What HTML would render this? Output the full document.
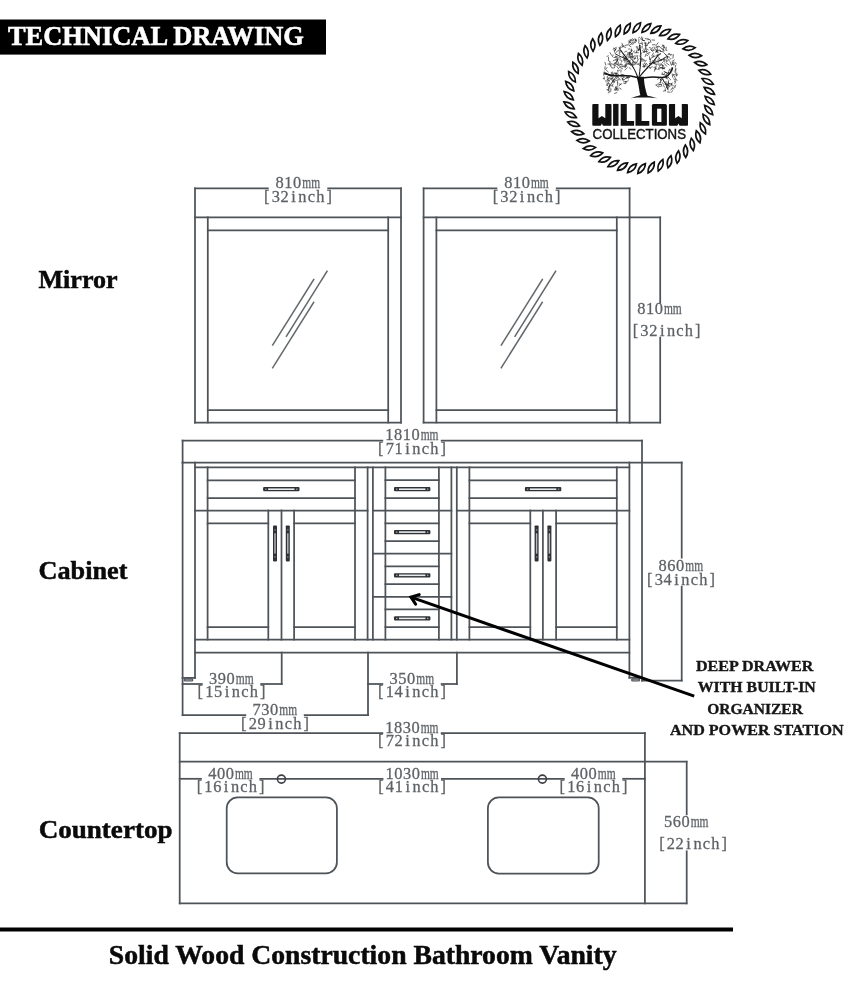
<!DOCTYPE html>
<html><head><meta charset="utf-8"><style>
html,body{margin:0;padding:0;background:#fff;}
svg{display:block;will-change:transform;}
</style></head><body>
<svg width="864" height="990" viewBox="0 0 864 990">
<rect width="864" height="990" fill="#fff"/>
<text x="279.67 288.42 297.17" y="188.2" font-family="Liberation Serif" font-size="16.4" fill="#5e6266" stroke="#5e6266" stroke-width="0.28" text-anchor="middle">810</text>
<text x="302.32" y="188.2" font-family="Liberation Serif" font-size="16.4" fill="#5e6266" stroke="#5e6266" stroke-width="0.28" textLength="17.8" lengthAdjust="spacingAndGlyphs">mm</text>
<text x="266.85 275.75 284.65 293.55 302.45 311.35 320.25 329.15" y="201.6" font-family="Liberation Serif" font-size="16.4" fill="#5e6266" stroke="#5e6266" stroke-width="0.28" text-anchor="middle">[32inch]</text>
<line x1="195.00" y1="188.40" x2="267.85" y2="188.40" stroke="#4d5358" stroke-width="1.75" stroke-linecap="square"/>
<line x1="328.15" y1="188.40" x2="401.00" y2="188.40" stroke="#4d5358" stroke-width="1.75" stroke-linecap="square"/>
<line x1="195.00" y1="188.40" x2="195.00" y2="422.50" stroke="#4d5358" stroke-width="1.75" stroke-linecap="square"/>
<line x1="401.00" y1="188.40" x2="401.00" y2="422.50" stroke="#4d5358" stroke-width="1.75" stroke-linecap="square"/>
<line x1="195.00" y1="217.40" x2="401.00" y2="217.40" stroke="#4d5358" stroke-width="1.75" stroke-linecap="square"/>
<line x1="207.80" y1="217.40" x2="207.80" y2="422.50" stroke="#4d5358" stroke-width="1.75" stroke-linecap="square"/>
<line x1="388.20" y1="217.40" x2="388.20" y2="422.50" stroke="#4d5358" stroke-width="1.75" stroke-linecap="square"/>
<line x1="207.80" y1="230.30" x2="388.20" y2="230.30" stroke="#4d5358" stroke-width="1.75" stroke-linecap="square"/>
<line x1="207.80" y1="410.00" x2="388.20" y2="410.00" stroke="#4d5358" stroke-width="1.75" stroke-linecap="square"/>
<line x1="195.00" y1="422.50" x2="401.00" y2="422.50" stroke="#4d5358" stroke-width="1.75" stroke-linecap="square"/>
<line x1="313.70" y1="279.60" x2="272.70" y2="345.00" stroke="#62676b" stroke-width="1.5" stroke-linecap="square"/>
<line x1="327.00" y1="271.30" x2="286.40" y2="336.30" stroke="#62676b" stroke-width="1.5" stroke-linecap="square"/>
<line x1="313.70" y1="302.40" x2="272.70" y2="367.70" stroke="#62676b" stroke-width="1.5" stroke-linecap="square"/>
<text x="508.27 517.02 525.77" y="188.2" font-family="Liberation Serif" font-size="16.4" fill="#5e6266" stroke="#5e6266" stroke-width="0.28" text-anchor="middle">810</text>
<text x="530.92" y="188.2" font-family="Liberation Serif" font-size="16.4" fill="#5e6266" stroke="#5e6266" stroke-width="0.28" textLength="17.8" lengthAdjust="spacingAndGlyphs">mm</text>
<text x="495.45 504.35 513.25 522.15 531.05 539.95 548.85 557.75" y="201.6" font-family="Liberation Serif" font-size="16.4" fill="#5e6266" stroke="#5e6266" stroke-width="0.28" text-anchor="middle">[32inch]</text>
<line x1="423.60" y1="188.40" x2="496.45" y2="188.40" stroke="#4d5358" stroke-width="1.75" stroke-linecap="square"/>
<line x1="556.75" y1="188.40" x2="629.60" y2="188.40" stroke="#4d5358" stroke-width="1.75" stroke-linecap="square"/>
<line x1="423.60" y1="188.40" x2="423.60" y2="422.50" stroke="#4d5358" stroke-width="1.75" stroke-linecap="square"/>
<line x1="629.60" y1="188.40" x2="629.60" y2="422.50" stroke="#4d5358" stroke-width="1.75" stroke-linecap="square"/>
<line x1="423.60" y1="217.40" x2="629.60" y2="217.40" stroke="#4d5358" stroke-width="1.75" stroke-linecap="square"/>
<line x1="436.40" y1="217.40" x2="436.40" y2="422.50" stroke="#4d5358" stroke-width="1.75" stroke-linecap="square"/>
<line x1="616.80" y1="217.40" x2="616.80" y2="422.50" stroke="#4d5358" stroke-width="1.75" stroke-linecap="square"/>
<line x1="436.40" y1="230.30" x2="616.80" y2="230.30" stroke="#4d5358" stroke-width="1.75" stroke-linecap="square"/>
<line x1="436.40" y1="410.00" x2="616.80" y2="410.00" stroke="#4d5358" stroke-width="1.75" stroke-linecap="square"/>
<line x1="423.60" y1="422.50" x2="629.60" y2="422.50" stroke="#4d5358" stroke-width="1.75" stroke-linecap="square"/>
<line x1="542.30" y1="279.60" x2="501.30" y2="345.00" stroke="#62676b" stroke-width="1.5" stroke-linecap="square"/>
<line x1="555.60" y1="271.30" x2="515.00" y2="336.30" stroke="#62676b" stroke-width="1.5" stroke-linecap="square"/>
<line x1="542.30" y1="302.40" x2="501.30" y2="367.70" stroke="#62676b" stroke-width="1.5" stroke-linecap="square"/>
<line x1="629.60" y1="217.40" x2="660.20" y2="217.40" stroke="#4d5358" stroke-width="1.75" stroke-linecap="square"/>
<line x1="660.20" y1="217.40" x2="660.20" y2="302.90" stroke="#4d5358" stroke-width="1.75" stroke-linecap="square"/>
<line x1="660.20" y1="337.60" x2="660.20" y2="422.50" stroke="#4d5358" stroke-width="1.75" stroke-linecap="square"/>
<line x1="629.60" y1="422.50" x2="660.20" y2="422.50" stroke="#4d5358" stroke-width="1.75" stroke-linecap="square"/>
<text x="641.30 650.05 658.80" y="314.4" font-family="Liberation Serif" font-size="16.4" fill="#5e6266" stroke="#5e6266" stroke-width="0.28" text-anchor="middle">810</text>
<text x="663.95" y="314.4" font-family="Liberation Serif" font-size="16.4" fill="#5e6266" stroke="#5e6266" stroke-width="0.28" textLength="17.8" lengthAdjust="spacingAndGlyphs">mm</text>
<text x="635.50 644.40 653.30 662.20 671.10 680.00 688.90 697.80" y="335.7" font-family="Liberation Serif" font-size="16.4" fill="#5e6266" stroke="#5e6266" stroke-width="0.28" text-anchor="middle">[32inch]</text>
<text x="389.30 398.05 406.80 415.55" y="440.2" font-family="Liberation Serif" font-size="16.4" fill="#5e6266" stroke="#5e6266" stroke-width="0.28" text-anchor="middle">1810</text>
<text x="420.70" y="440.2" font-family="Liberation Serif" font-size="16.4" fill="#5e6266" stroke="#5e6266" stroke-width="0.28" textLength="17.8" lengthAdjust="spacingAndGlyphs">mm</text>
<text x="380.85 389.75 398.65 407.55 416.45 425.35 434.25 443.15" y="453.59999999999997" font-family="Liberation Serif" font-size="16.4" fill="#5e6266" stroke="#5e6266" stroke-width="0.28" text-anchor="middle">[71inch]</text>
<line x1="182.60" y1="440.60" x2="382.35" y2="440.60" stroke="#4d5358" stroke-width="1.75" stroke-linecap="square"/>
<line x1="441.65" y1="440.60" x2="642.00" y2="440.60" stroke="#4d5358" stroke-width="1.75" stroke-linecap="square"/>
<line x1="182.60" y1="440.60" x2="182.60" y2="462.50" stroke="#4d5358" stroke-width="1.75" stroke-linecap="square"/>
<line x1="642.00" y1="440.60" x2="642.00" y2="462.50" stroke="#4d5358" stroke-width="1.75" stroke-linecap="square"/>
<line x1="182.60" y1="462.50" x2="681.70" y2="462.50" stroke="#4d5358" stroke-width="1.75" stroke-linecap="square"/>
<line x1="182.60" y1="462.50" x2="182.60" y2="715.20" stroke="#4d5358" stroke-width="1.75" stroke-linecap="square"/>
<line x1="195.00" y1="462.50" x2="195.00" y2="677.90" stroke="#4d5358" stroke-width="1.75" stroke-linecap="square"/>
<line x1="629.40" y1="462.50" x2="629.40" y2="677.70" stroke="#4d5358" stroke-width="1.75" stroke-linecap="square"/>
<line x1="642.00" y1="462.50" x2="642.00" y2="680.50" stroke="#4d5358" stroke-width="1.75" stroke-linecap="square"/>
<line x1="182.60" y1="677.90" x2="195.00" y2="677.90" stroke="#4d5358" stroke-width="1.75" stroke-linecap="square"/>
<line x1="629.40" y1="677.70" x2="642.00" y2="677.70" stroke="#4d5358" stroke-width="1.75" stroke-linecap="square"/>
<rect x="184.3" y="679.0" width="8.4" height="1.9" rx="0.9" fill="none" stroke="#4d5358" stroke-width="1.3"/>
<rect x="631.7" y="679.0" width="7.8" height="1.9" rx="0.9" fill="none" stroke="#4d5358" stroke-width="1.3"/>
<line x1="195.00" y1="467.30" x2="629.40" y2="467.30" stroke="#4d5358" stroke-width="1.75" stroke-linecap="square"/>
<line x1="195.00" y1="639.60" x2="629.40" y2="639.60" stroke="#4d5358" stroke-width="1.75" stroke-linecap="square"/>
<line x1="195.00" y1="652.60" x2="629.40" y2="652.60" stroke="#4d5358" stroke-width="1.75" stroke-linecap="square"/>
<line x1="207.60" y1="467.30" x2="207.60" y2="639.60" stroke="#4d5358" stroke-width="1.75" stroke-linecap="square"/>
<line x1="355.00" y1="467.30" x2="355.00" y2="639.60" stroke="#4d5358" stroke-width="1.75" stroke-linecap="square"/>
<line x1="367.60" y1="467.30" x2="367.60" y2="639.60" stroke="#4d5358" stroke-width="1.75" stroke-linecap="square"/>
<line x1="207.60" y1="480.30" x2="355.00" y2="480.30" stroke="#4d5358" stroke-width="1.75" stroke-linecap="square"/>
<line x1="207.60" y1="498.00" x2="355.00" y2="498.00" stroke="#4d5358" stroke-width="1.75" stroke-linecap="square"/>
<line x1="195.00" y1="510.50" x2="367.60" y2="510.50" stroke="#4d5358" stroke-width="1.75" stroke-linecap="square"/>
<line x1="268.30" y1="510.50" x2="268.30" y2="639.60" stroke="#4d5358" stroke-width="1.75" stroke-linecap="square"/>
<line x1="281.50" y1="510.50" x2="281.50" y2="639.60" stroke="#4d5358" stroke-width="1.75" stroke-linecap="square"/>
<line x1="294.10" y1="510.50" x2="294.10" y2="639.60" stroke="#4d5358" stroke-width="1.75" stroke-linecap="square"/>
<line x1="207.60" y1="523.30" x2="268.30" y2="523.30" stroke="#4d5358" stroke-width="1.75" stroke-linecap="square"/>
<line x1="207.60" y1="627.20" x2="268.30" y2="627.20" stroke="#4d5358" stroke-width="1.75" stroke-linecap="square"/>
<line x1="294.10" y1="523.30" x2="355.00" y2="523.30" stroke="#4d5358" stroke-width="1.75" stroke-linecap="square"/>
<line x1="294.10" y1="627.20" x2="355.00" y2="627.20" stroke="#4d5358" stroke-width="1.75" stroke-linecap="square"/>
<rect x="263.1" y="487.1" width="36.4" height="4.2" rx="1" fill="#2e3236"/>
<rect x="268.1" y="488.4" width="26.4" height="1.6" fill="#e8eaec"/>
<rect x="265.1" y="488.6" width="1.4" height="1.2" fill="#aaa"/>
<rect x="296.1" y="488.6" width="1.4" height="1.2" fill="#aaa"/>
<rect x="273.0" y="525.5" width="4.0" height="35.9" rx="0.8" fill="#2e3236"/>
<rect x="274.3" y="533.3" width="1.4" height="20.3" fill="#b8bbbe"/>
<rect x="274.4" y="529.3" width="1.2" height="1.2" fill="#9a9da0"/>
<rect x="274.4" y="556.4" width="1.2" height="1.2" fill="#9a9da0"/>
<rect x="285.8" y="525.5" width="4.0" height="35.9" rx="0.8" fill="#2e3236"/>
<rect x="287.1" y="533.3" width="1.4" height="20.3" fill="#b8bbbe"/>
<rect x="287.2" y="529.3" width="1.2" height="1.2" fill="#9a9da0"/>
<rect x="287.2" y="556.4" width="1.2" height="1.2" fill="#9a9da0"/>
<line x1="616.80" y1="467.30" x2="616.80" y2="639.60" stroke="#4d5358" stroke-width="1.75" stroke-linecap="square"/>
<line x1="469.40" y1="467.30" x2="469.40" y2="639.60" stroke="#4d5358" stroke-width="1.75" stroke-linecap="square"/>
<line x1="456.80" y1="467.30" x2="456.80" y2="639.60" stroke="#4d5358" stroke-width="1.75" stroke-linecap="square"/>
<line x1="469.40" y1="480.30" x2="616.80" y2="480.30" stroke="#4d5358" stroke-width="1.75" stroke-linecap="square"/>
<line x1="469.40" y1="498.00" x2="616.80" y2="498.00" stroke="#4d5358" stroke-width="1.75" stroke-linecap="square"/>
<line x1="456.80" y1="510.50" x2="629.40" y2="510.50" stroke="#4d5358" stroke-width="1.75" stroke-linecap="square"/>
<line x1="556.10" y1="510.50" x2="556.10" y2="639.60" stroke="#4d5358" stroke-width="1.75" stroke-linecap="square"/>
<line x1="542.90" y1="510.50" x2="542.90" y2="639.60" stroke="#4d5358" stroke-width="1.75" stroke-linecap="square"/>
<line x1="530.30" y1="510.50" x2="530.30" y2="639.60" stroke="#4d5358" stroke-width="1.75" stroke-linecap="square"/>
<line x1="556.10" y1="523.30" x2="616.80" y2="523.30" stroke="#4d5358" stroke-width="1.75" stroke-linecap="square"/>
<line x1="556.10" y1="627.20" x2="616.80" y2="627.20" stroke="#4d5358" stroke-width="1.75" stroke-linecap="square"/>
<line x1="469.40" y1="523.30" x2="530.30" y2="523.30" stroke="#4d5358" stroke-width="1.75" stroke-linecap="square"/>
<line x1="469.40" y1="627.20" x2="530.30" y2="627.20" stroke="#4d5358" stroke-width="1.75" stroke-linecap="square"/>
<rect x="524.9" y="487.1" width="36.4" height="4.2" rx="1" fill="#2e3236"/>
<rect x="529.9" y="488.4" width="26.4" height="1.6" fill="#e8eaec"/>
<rect x="526.9" y="488.6" width="1.4" height="1.2" fill="#aaa"/>
<rect x="557.9" y="488.6" width="1.4" height="1.2" fill="#aaa"/>
<rect x="547.4" y="525.5" width="4.0" height="35.9" rx="0.8" fill="#2e3236"/>
<rect x="548.7" y="533.3" width="1.4" height="20.3" fill="#b8bbbe"/>
<rect x="548.8" y="529.3" width="1.2" height="1.2" fill="#9a9da0"/>
<rect x="548.8" y="556.4" width="1.2" height="1.2" fill="#9a9da0"/>
<rect x="534.6" y="525.5" width="4.0" height="35.9" rx="0.8" fill="#2e3236"/>
<rect x="535.9" y="533.3" width="1.4" height="20.3" fill="#b8bbbe"/>
<rect x="536.0" y="529.3" width="1.2" height="1.2" fill="#9a9da0"/>
<rect x="536.0" y="556.4" width="1.2" height="1.2" fill="#9a9da0"/>
<line x1="372.90" y1="467.30" x2="372.90" y2="639.60" stroke="#4d5358" stroke-width="1.75" stroke-linecap="square"/>
<line x1="385.40" y1="467.30" x2="385.40" y2="639.60" stroke="#4d5358" stroke-width="1.75" stroke-linecap="square"/>
<line x1="438.90" y1="467.30" x2="438.90" y2="639.60" stroke="#4d5358" stroke-width="1.75" stroke-linecap="square"/>
<line x1="451.40" y1="467.30" x2="451.40" y2="639.60" stroke="#4d5358" stroke-width="1.75" stroke-linecap="square"/>
<line x1="385.40" y1="480.20" x2="438.90" y2="480.20" stroke="#4d5358" stroke-width="1.75" stroke-linecap="square"/>
<line x1="385.40" y1="498.00" x2="438.90" y2="498.00" stroke="#4d5358" stroke-width="1.75" stroke-linecap="square"/>
<line x1="385.40" y1="523.30" x2="438.90" y2="523.30" stroke="#4d5358" stroke-width="1.75" stroke-linecap="square"/>
<line x1="385.40" y1="541.10" x2="438.90" y2="541.10" stroke="#4d5358" stroke-width="1.75" stroke-linecap="square"/>
<line x1="385.40" y1="566.30" x2="438.90" y2="566.30" stroke="#4d5358" stroke-width="1.75" stroke-linecap="square"/>
<line x1="385.40" y1="584.00" x2="438.90" y2="584.00" stroke="#4d5358" stroke-width="1.75" stroke-linecap="square"/>
<line x1="385.40" y1="609.40" x2="438.90" y2="609.40" stroke="#4d5358" stroke-width="1.75" stroke-linecap="square"/>
<line x1="385.40" y1="627.10" x2="438.90" y2="627.10" stroke="#4d5358" stroke-width="1.75" stroke-linecap="square"/>
<line x1="372.90" y1="510.60" x2="451.40" y2="510.60" stroke="#4d5358" stroke-width="1.75" stroke-linecap="square"/>
<line x1="372.90" y1="553.60" x2="451.40" y2="553.60" stroke="#4d5358" stroke-width="1.75" stroke-linecap="square"/>
<line x1="372.90" y1="596.80" x2="451.40" y2="596.80" stroke="#4d5358" stroke-width="1.75" stroke-linecap="square"/>
<rect x="394.0" y="487.1" width="36.4" height="4.2" rx="1" fill="#2e3236"/>
<rect x="399.0" y="488.4" width="26.4" height="1.6" fill="#e8eaec"/>
<rect x="396.0" y="488.6" width="1.4" height="1.2" fill="#aaa"/>
<rect x="427.0" y="488.6" width="1.4" height="1.2" fill="#aaa"/>
<rect x="394.0" y="530.0" width="36.4" height="4.2" rx="1" fill="#2e3236"/>
<rect x="399.0" y="531.3" width="26.4" height="1.6" fill="#e8eaec"/>
<rect x="396.0" y="531.5" width="1.4" height="1.2" fill="#aaa"/>
<rect x="427.0" y="531.5" width="1.4" height="1.2" fill="#aaa"/>
<rect x="394.0" y="573.2" width="36.4" height="4.2" rx="1" fill="#2e3236"/>
<rect x="399.0" y="574.5" width="26.4" height="1.6" fill="#e8eaec"/>
<rect x="396.0" y="574.7" width="1.4" height="1.2" fill="#aaa"/>
<rect x="427.0" y="574.7" width="1.4" height="1.2" fill="#aaa"/>
<rect x="394.0" y="616.3" width="36.4" height="4.2" rx="1" fill="#2e3236"/>
<rect x="399.0" y="617.6" width="26.4" height="1.6" fill="#e8eaec"/>
<rect x="396.0" y="617.8" width="1.4" height="1.2" fill="#aaa"/>
<rect x="427.0" y="617.8" width="1.4" height="1.2" fill="#aaa"/>
<line x1="681.70" y1="462.50" x2="681.70" y2="557.60" stroke="#4d5358" stroke-width="1.75" stroke-linecap="square"/>
<line x1="681.70" y1="586.70" x2="681.70" y2="680.50" stroke="#4d5358" stroke-width="1.75" stroke-linecap="square"/>
<line x1="642.00" y1="680.50" x2="681.70" y2="680.50" stroke="#4d5358" stroke-width="1.75" stroke-linecap="square"/>
<text x="662.68 671.43 680.18" y="571.4" font-family="Liberation Serif" font-size="16.4" fill="#5e6266" stroke="#5e6266" stroke-width="0.28" text-anchor="middle">860</text>
<text x="685.33" y="571.4" font-family="Liberation Serif" font-size="16.4" fill="#5e6266" stroke="#5e6266" stroke-width="0.28" textLength="17.8" lengthAdjust="spacingAndGlyphs">mm</text>
<text x="649.85 658.75 667.65 676.55 685.45 694.35 703.25 712.15" y="584.9" font-family="Liberation Serif" font-size="16.4" fill="#5e6266" stroke="#5e6266" stroke-width="0.28" text-anchor="middle">[34inch]</text>
<line x1="281.70" y1="652.60" x2="281.70" y2="684.00" stroke="#4d5358" stroke-width="1.75" stroke-linecap="square"/>
<text x="213.17 221.92 230.67" y="683.5" font-family="Liberation Serif" font-size="16.4" fill="#5e6266" stroke="#5e6266" stroke-width="0.28" text-anchor="middle">390</text>
<text x="235.82" y="683.5" font-family="Liberation Serif" font-size="16.4" fill="#5e6266" stroke="#5e6266" stroke-width="0.28" textLength="17.8" lengthAdjust="spacingAndGlyphs">mm</text>
<text x="200.35 209.25 218.15 227.05 235.95 244.85 253.75 262.65" y="697.0" font-family="Liberation Serif" font-size="16.4" fill="#5e6266" stroke="#5e6266" stroke-width="0.28" text-anchor="middle">[15inch]</text>
<line x1="182.60" y1="684.00" x2="201.85" y2="684.00" stroke="#4d5358" stroke-width="1.75" stroke-linecap="square"/>
<line x1="261.15" y1="684.00" x2="281.70" y2="684.00" stroke="#4d5358" stroke-width="1.75" stroke-linecap="square"/>
<line x1="368.00" y1="652.60" x2="368.00" y2="715.20" stroke="#4d5358" stroke-width="1.75" stroke-linecap="square"/>
<line x1="456.90" y1="652.60" x2="456.90" y2="684.00" stroke="#4d5358" stroke-width="1.75" stroke-linecap="square"/>
<text x="393.67 402.42 411.17" y="683.5" font-family="Liberation Serif" font-size="16.4" fill="#5e6266" stroke="#5e6266" stroke-width="0.28" text-anchor="middle">350</text>
<text x="416.32" y="683.5" font-family="Liberation Serif" font-size="16.4" fill="#5e6266" stroke="#5e6266" stroke-width="0.28" textLength="17.8" lengthAdjust="spacingAndGlyphs">mm</text>
<text x="380.85 389.75 398.65 407.55 416.45 425.35 434.25 443.15" y="697.0" font-family="Liberation Serif" font-size="16.4" fill="#5e6266" stroke="#5e6266" stroke-width="0.28" text-anchor="middle">[14inch]</text>
<line x1="368.00" y1="684.00" x2="382.35" y2="684.00" stroke="#4d5358" stroke-width="1.75" stroke-linecap="square"/>
<line x1="441.65" y1="684.00" x2="456.90" y2="684.00" stroke="#4d5358" stroke-width="1.75" stroke-linecap="square"/>
<text x="256.67 265.42 274.17" y="715.3" font-family="Liberation Serif" font-size="16.4" fill="#5e6266" stroke="#5e6266" stroke-width="0.28" text-anchor="middle">730</text>
<text x="279.32" y="715.3" font-family="Liberation Serif" font-size="16.4" fill="#5e6266" stroke="#5e6266" stroke-width="0.28" textLength="17.8" lengthAdjust="spacingAndGlyphs">mm</text>
<text x="243.85 252.75 261.65 270.55 279.45 288.35 297.25 306.15" y="728.8" font-family="Liberation Serif" font-size="16.4" fill="#5e6266" stroke="#5e6266" stroke-width="0.28" text-anchor="middle">[29inch]</text>
<line x1="182.60" y1="715.20" x2="245.35" y2="715.20" stroke="#4d5358" stroke-width="1.75" stroke-linecap="square"/>
<line x1="304.65" y1="715.20" x2="368.00" y2="715.20" stroke="#4d5358" stroke-width="1.75" stroke-linecap="square"/>
<text x="389.30 398.05 406.80 415.55" y="732.5" font-family="Liberation Serif" font-size="16.4" fill="#5e6266" stroke="#5e6266" stroke-width="0.28" text-anchor="middle">1830</text>
<text x="420.70" y="732.5" font-family="Liberation Serif" font-size="16.4" fill="#5e6266" stroke="#5e6266" stroke-width="0.28" textLength="17.8" lengthAdjust="spacingAndGlyphs">mm</text>
<text x="380.85 389.75 398.65 407.55 416.45 425.35 434.25 443.15" y="746.0" font-family="Liberation Serif" font-size="16.4" fill="#5e6266" stroke="#5e6266" stroke-width="0.28" text-anchor="middle">[72inch]</text>
<line x1="179.70" y1="733.00" x2="382.35" y2="733.00" stroke="#4d5358" stroke-width="1.75" stroke-linecap="square"/>
<line x1="441.65" y1="733.00" x2="644.90" y2="733.00" stroke="#4d5358" stroke-width="1.75" stroke-linecap="square"/>
<line x1="179.70" y1="733.00" x2="179.70" y2="903.40" stroke="#4d5358" stroke-width="1.75" stroke-linecap="square"/>
<line x1="644.90" y1="733.00" x2="644.90" y2="903.40" stroke="#4d5358" stroke-width="1.75" stroke-linecap="square"/>
<line x1="179.70" y1="903.40" x2="686.50" y2="903.40" stroke="#4d5358" stroke-width="1.75" stroke-linecap="square"/>
<line x1="179.70" y1="761.70" x2="686.50" y2="761.70" stroke="#4d5358" stroke-width="1.75" stroke-linecap="square"/>
<text x="212.27 221.02 229.77" y="778.5" font-family="Liberation Serif" font-size="16.4" fill="#5e6266" stroke="#5e6266" stroke-width="0.28" text-anchor="middle">400</text>
<text x="234.92" y="778.5" font-family="Liberation Serif" font-size="16.4" fill="#5e6266" stroke="#5e6266" stroke-width="0.28" textLength="17.8" lengthAdjust="spacingAndGlyphs">mm</text>
<text x="199.45 208.35 217.25 226.15 235.05 243.95 252.85 261.75" y="791.8" font-family="Liberation Serif" font-size="16.4" fill="#5e6266" stroke="#5e6266" stroke-width="0.28" text-anchor="middle">[16inch]</text>
<text x="389.50 398.25 407.00 415.75" y="778.5" font-family="Liberation Serif" font-size="16.4" fill="#5e6266" stroke="#5e6266" stroke-width="0.28" text-anchor="middle">1030</text>
<text x="420.90" y="778.5" font-family="Liberation Serif" font-size="16.4" fill="#5e6266" stroke="#5e6266" stroke-width="0.28" textLength="17.8" lengthAdjust="spacingAndGlyphs">mm</text>
<text x="381.05 389.95 398.85 407.75 416.65 425.55 434.45 443.35" y="791.8" font-family="Liberation Serif" font-size="16.4" fill="#5e6266" stroke="#5e6266" stroke-width="0.28" text-anchor="middle">[41inch]</text>
<text x="575.18 583.93 592.68" y="778.5" font-family="Liberation Serif" font-size="16.4" fill="#5e6266" stroke="#5e6266" stroke-width="0.28" text-anchor="middle">400</text>
<text x="597.83" y="778.5" font-family="Liberation Serif" font-size="16.4" fill="#5e6266" stroke="#5e6266" stroke-width="0.28" textLength="17.8" lengthAdjust="spacingAndGlyphs">mm</text>
<text x="562.35 571.25 580.15 589.05 597.95 606.85 615.75 624.65" y="791.8" font-family="Liberation Serif" font-size="16.4" fill="#5e6266" stroke="#5e6266" stroke-width="0.28" text-anchor="middle">[16inch]</text>
<line x1="179.70" y1="778.80" x2="200.95" y2="778.80" stroke="#4d5358" stroke-width="1.75" stroke-linecap="square"/>
<line x1="260.25" y1="778.80" x2="382.55" y2="778.80" stroke="#4d5358" stroke-width="1.75" stroke-linecap="square"/>
<line x1="441.85" y1="778.80" x2="563.85" y2="778.80" stroke="#4d5358" stroke-width="1.75" stroke-linecap="square"/>
<line x1="623.15" y1="778.80" x2="644.90" y2="778.80" stroke="#4d5358" stroke-width="1.75" stroke-linecap="square"/>
<line x1="686.70" y1="761.70" x2="686.70" y2="814.30" stroke="#4d5358" stroke-width="1.75" stroke-linecap="square"/>
<line x1="686.70" y1="851.30" x2="686.70" y2="903.40" stroke="#4d5358" stroke-width="1.75" stroke-linecap="square"/>
<text x="668.00 676.75 685.50" y="826.8" font-family="Liberation Serif" font-size="16.4" fill="#5e6266" stroke="#5e6266" stroke-width="0.28" text-anchor="middle">560</text>
<text x="690.65" y="826.8" font-family="Liberation Serif" font-size="16.4" fill="#5e6266" stroke="#5e6266" stroke-width="0.28" textLength="17.8" lengthAdjust="spacingAndGlyphs">mm</text>
<text x="661.90 670.80 679.70 688.60 697.50 706.40 715.30 724.20" y="848.5" font-family="Liberation Serif" font-size="16.4" fill="#5e6266" stroke="#5e6266" stroke-width="0.28" text-anchor="middle">[22inch]</text>
<circle cx="281.4" cy="779.1" r="4.0" fill="none" stroke="#3a3f44" stroke-width="1.6"/>
<circle cx="542.4" cy="779.1" r="4.0" fill="none" stroke="#3a3f44" stroke-width="1.6"/>
<rect x="226.7" y="797.4" width="110.2" height="75.9" rx="11" fill="none" stroke="#4d5358" stroke-width="1.75"/>
<rect x="487.9" y="797.3" width="110.8" height="76.2" rx="11" fill="none" stroke="#4d5358" stroke-width="1.75"/>
<line x1="413" y1="597.9" x2="694.2" y2="696.2" stroke="#000" stroke-width="3.0"/>
<polyline points="419.2,594.6 410.9,597.1 415.6,604.2" fill="none" stroke="#000" stroke-width="3.0" stroke-linejoin="miter" stroke-linecap="round"/>
<text x="695.9" y="671.2" font-family="Liberation Serif" font-size="15.5" font-weight="bold" fill="#161616" text-anchor="start" textLength="117.6" lengthAdjust="spacingAndGlyphs" stroke="#161616" stroke-width="0.35">DEEP DRAWER</text>
<text x="697.8" y="692.4" font-family="Liberation Serif" font-size="15.5" font-weight="bold" fill="#161616" text-anchor="start" textLength="118.0" lengthAdjust="spacingAndGlyphs" stroke="#161616" stroke-width="0.35">WITH BUILT-IN</text>
<text x="707.2" y="713.7" font-family="Liberation Serif" font-size="15.5" font-weight="bold" fill="#161616" text-anchor="start" textLength="95.7" lengthAdjust="spacingAndGlyphs" stroke="#161616" stroke-width="0.35">ORGANIZER</text>
<text x="669.9" y="735.0" font-family="Liberation Serif" font-size="15.5" font-weight="bold" fill="#161616" text-anchor="start" textLength="173.8" lengthAdjust="spacingAndGlyphs" stroke="#161616" stroke-width="0.35">AND POWER STATION</text>
<text x="38.5" y="287.6" font-family="Liberation Serif" font-size="26" font-weight="bold" fill="#0a0a0a" text-anchor="start" textLength="79.1" lengthAdjust="spacingAndGlyphs" stroke="#0a0a0a" stroke-width="0.5">Mirror</text>
<text x="38.5" y="578.7" font-family="Liberation Serif" font-size="26" font-weight="bold" fill="#0a0a0a" text-anchor="start" textLength="88.9" lengthAdjust="spacingAndGlyphs" stroke="#0a0a0a" stroke-width="0.5">Cabinet</text>
<text x="38.7" y="837.5" font-family="Liberation Serif" font-size="26" font-weight="bold" fill="#0a0a0a" text-anchor="start" textLength="133.8" lengthAdjust="spacingAndGlyphs" stroke="#0a0a0a" stroke-width="0.5">Countertop</text>
<rect x="0" y="927.5" width="733" height="4" fill="#000"/>
<text x="108.8" y="963.8" font-family="Liberation Serif" font-size="27" font-weight="bold" fill="#0a0a0a" text-anchor="start" textLength="507.8" lengthAdjust="spacingAndGlyphs" stroke="#0a0a0a" stroke-width="0.5">Solid Wood Construction Bathroom Vanity</text>
<rect x="0" y="19.5" width="326" height="35.1" fill="#000"/>
<text x="8" y="45" font-family="Liberation Serif" font-size="27.5" font-weight="bold" fill="#fff" text-anchor="start" textLength="295.8" lengthAdjust="spacingAndGlyphs" stroke="#fff" stroke-width="0.6">TECHNICAL DRAWING</text>
<path d="M704.98,96.35 Q706.79,103.70 714.32,104.63 Q712.50,97.27 704.98,96.35Z" fill="none" stroke="#111" stroke-width="1.7" stroke-linejoin="miter" stroke-miterlimit="10"/>
<path d="M704.60,105.32 Q705.40,112.86 712.73,114.79 Q711.93,107.26 704.60,105.32Z" fill="none" stroke="#111" stroke-width="1.7" stroke-linejoin="miter" stroke-miterlimit="10"/>
<path d="M703.01,114.16 Q702.78,121.73 709.77,124.65 Q710.01,117.07 703.01,114.16Z" fill="none" stroke="#111" stroke-width="1.7" stroke-linejoin="miter" stroke-miterlimit="10"/>
<path d="M700.23,122.70 Q698.97,130.17 705.50,134.01 Q706.76,126.54 700.23,122.70Z" fill="none" stroke="#111" stroke-width="1.7" stroke-linejoin="miter" stroke-miterlimit="10"/>
<path d="M696.31,130.78 Q694.04,138.01 699.99,142.71 Q702.26,135.47 696.31,130.78Z" fill="none" stroke="#111" stroke-width="1.7" stroke-linejoin="miter" stroke-miterlimit="10"/>
<path d="M691.33,138.25 Q688.10,145.10 693.35,150.57 Q696.58,143.71 691.33,138.25Z" fill="none" stroke="#111" stroke-width="1.7" stroke-linejoin="miter" stroke-miterlimit="10"/>
<path d="M685.38,144.97 Q681.24,151.33 685.70,157.45 Q689.84,151.10 685.38,144.97Z" fill="none" stroke="#111" stroke-width="1.7" stroke-linejoin="miter" stroke-miterlimit="10"/>
<path d="M678.56,150.83 Q673.60,156.55 677.19,163.23 Q682.15,157.50 678.56,150.83Z" fill="none" stroke="#111" stroke-width="1.7" stroke-linejoin="miter" stroke-miterlimit="10"/>
<path d="M671.02,155.70 Q665.32,160.69 667.96,167.80 Q673.66,162.80 671.02,155.70Z" fill="none" stroke="#111" stroke-width="1.7" stroke-linejoin="miter" stroke-miterlimit="10"/>
<path d="M662.88,159.49 Q656.56,163.67 658.21,171.07 Q664.53,166.89 662.88,159.49Z" fill="none" stroke="#111" stroke-width="1.7" stroke-linejoin="miter" stroke-miterlimit="10"/>
<path d="M654.30,162.14 Q647.47,165.42 648.09,172.97 Q654.93,169.70 654.30,162.14Z" fill="none" stroke="#111" stroke-width="1.7" stroke-linejoin="miter" stroke-miterlimit="10"/>
<path d="M645.44,163.60 Q638.22,165.92 637.82,173.49 Q645.03,171.17 645.44,163.60Z" fill="none" stroke="#111" stroke-width="1.7" stroke-linejoin="miter" stroke-miterlimit="10"/>
<path d="M636.46,163.84 Q629.00,165.15 627.56,172.60 Q635.03,171.29 636.46,163.84Z" fill="none" stroke="#111" stroke-width="1.7" stroke-linejoin="miter" stroke-miterlimit="10"/>
<path d="M627.53,162.86 Q619.96,163.14 617.53,170.32 Q625.10,170.04 627.53,162.86Z" fill="none" stroke="#111" stroke-width="1.7" stroke-linejoin="miter" stroke-miterlimit="10"/>
<path d="M618.83,160.67 Q611.28,159.92 607.90,166.69 Q615.44,167.45 618.83,160.67Z" fill="none" stroke="#111" stroke-width="1.7" stroke-linejoin="miter" stroke-miterlimit="10"/>
<path d="M610.50,157.31 Q603.13,155.54 598.85,161.79 Q606.22,163.56 610.50,157.31Z" fill="none" stroke="#111" stroke-width="1.7" stroke-linejoin="miter" stroke-miterlimit="10"/>
<path d="M602.70,152.85 Q595.64,150.09 590.55,155.71 Q597.61,158.46 602.70,152.85Z" fill="none" stroke="#111" stroke-width="1.7" stroke-linejoin="miter" stroke-miterlimit="10"/>
<path d="M595.59,147.37 Q588.97,143.68 583.16,148.54 Q589.78,152.24 595.59,147.37Z" fill="none" stroke="#111" stroke-width="1.7" stroke-linejoin="miter" stroke-miterlimit="10"/>
<path d="M589.28,140.97 Q583.23,136.41 576.81,140.44 Q582.87,145.00 589.28,140.97Z" fill="none" stroke="#111" stroke-width="1.7" stroke-linejoin="miter" stroke-miterlimit="10"/>
<path d="M583.91,133.77 Q578.53,128.43 571.63,131.55 Q577.00,136.90 583.91,133.77Z" fill="none" stroke="#111" stroke-width="1.7" stroke-linejoin="miter" stroke-miterlimit="10"/>
<path d="M579.57,125.91 Q574.97,119.89 567.70,122.04 Q572.30,128.07 579.57,125.91Z" fill="none" stroke="#111" stroke-width="1.7" stroke-linejoin="miter" stroke-miterlimit="10"/>
<path d="M576.34,117.54 Q572.60,110.94 565.11,112.08 Q568.84,118.68 576.34,117.54Z" fill="none" stroke="#111" stroke-width="1.7" stroke-linejoin="miter" stroke-miterlimit="10"/>
<path d="M574.27,108.79 Q571.47,101.75 563.89,101.86 Q566.70,108.90 574.27,108.79Z" fill="none" stroke="#111" stroke-width="1.7" stroke-linejoin="miter" stroke-miterlimit="10"/>
<path d="M573.42,99.85 Q571.61,92.50 564.08,91.57 Q565.90,98.93 573.42,99.85Z" fill="none" stroke="#111" stroke-width="1.7" stroke-linejoin="miter" stroke-miterlimit="10"/>
<path d="M573.80,90.88 Q573.00,83.34 565.67,81.41 Q566.47,88.94 573.80,90.88Z" fill="none" stroke="#111" stroke-width="1.7" stroke-linejoin="miter" stroke-miterlimit="10"/>
<path d="M575.39,82.04 Q575.62,74.47 568.63,71.55 Q568.39,79.13 575.39,82.04Z" fill="none" stroke="#111" stroke-width="1.7" stroke-linejoin="miter" stroke-miterlimit="10"/>
<path d="M578.17,73.50 Q579.43,66.03 572.90,62.19 Q571.64,69.66 578.17,73.50Z" fill="none" stroke="#111" stroke-width="1.7" stroke-linejoin="miter" stroke-miterlimit="10"/>
<path d="M582.09,65.42 Q584.36,58.19 578.41,53.49 Q576.14,60.73 582.09,65.42Z" fill="none" stroke="#111" stroke-width="1.7" stroke-linejoin="miter" stroke-miterlimit="10"/>
<path d="M587.07,57.95 Q590.30,51.10 585.05,45.63 Q581.82,52.49 587.07,57.95Z" fill="none" stroke="#111" stroke-width="1.7" stroke-linejoin="miter" stroke-miterlimit="10"/>
<path d="M593.02,51.23 Q597.16,44.87 592.70,38.75 Q588.56,45.10 593.02,51.23Z" fill="none" stroke="#111" stroke-width="1.7" stroke-linejoin="miter" stroke-miterlimit="10"/>
<path d="M599.84,45.37 Q604.80,39.65 601.21,32.97 Q596.25,38.70 599.84,45.37Z" fill="none" stroke="#111" stroke-width="1.7" stroke-linejoin="miter" stroke-miterlimit="10"/>
<path d="M607.38,40.50 Q613.08,35.51 610.44,28.40 Q604.74,33.40 607.38,40.50Z" fill="none" stroke="#111" stroke-width="1.7" stroke-linejoin="miter" stroke-miterlimit="10"/>
<path d="M615.52,36.71 Q621.84,32.53 620.19,25.13 Q613.87,29.31 615.52,36.71Z" fill="none" stroke="#111" stroke-width="1.7" stroke-linejoin="miter" stroke-miterlimit="10"/>
<path d="M624.10,34.06 Q630.93,30.78 630.31,23.23 Q623.47,26.50 624.10,34.06Z" fill="none" stroke="#111" stroke-width="1.7" stroke-linejoin="miter" stroke-miterlimit="10"/>
<path d="M632.96,32.60 Q640.18,30.28 640.58,22.71 Q633.37,25.03 632.96,32.60Z" fill="none" stroke="#111" stroke-width="1.7" stroke-linejoin="miter" stroke-miterlimit="10"/>
<path d="M641.94,32.36 Q649.40,31.05 650.84,23.60 Q643.37,24.91 641.94,32.36Z" fill="none" stroke="#111" stroke-width="1.7" stroke-linejoin="miter" stroke-miterlimit="10"/>
<path d="M650.87,33.34 Q658.44,33.06 660.87,25.88 Q653.30,26.16 650.87,33.34Z" fill="none" stroke="#111" stroke-width="1.7" stroke-linejoin="miter" stroke-miterlimit="10"/>
<path d="M659.57,35.53 Q667.12,36.28 670.50,29.51 Q662.96,28.75 659.57,35.53Z" fill="none" stroke="#111" stroke-width="1.7" stroke-linejoin="miter" stroke-miterlimit="10"/>
<path d="M667.90,38.89 Q675.27,40.66 679.55,34.41 Q672.18,32.64 667.90,38.89Z" fill="none" stroke="#111" stroke-width="1.7" stroke-linejoin="miter" stroke-miterlimit="10"/>
<path d="M675.70,43.35 Q682.76,46.11 687.85,40.49 Q680.79,37.74 675.70,43.35Z" fill="none" stroke="#111" stroke-width="1.7" stroke-linejoin="miter" stroke-miterlimit="10"/>
<path d="M682.81,48.83 Q689.43,52.52 695.24,47.66 Q688.62,43.96 682.81,48.83Z" fill="none" stroke="#111" stroke-width="1.7" stroke-linejoin="miter" stroke-miterlimit="10"/>
<path d="M689.12,55.23 Q695.17,59.79 701.59,55.76 Q695.53,51.20 689.12,55.23Z" fill="none" stroke="#111" stroke-width="1.7" stroke-linejoin="miter" stroke-miterlimit="10"/>
<path d="M694.49,62.43 Q699.87,67.77 706.77,64.65 Q701.40,59.30 694.49,62.43Z" fill="none" stroke="#111" stroke-width="1.7" stroke-linejoin="miter" stroke-miterlimit="10"/>
<path d="M698.83,70.29 Q703.43,76.31 710.70,74.16 Q706.10,68.13 698.83,70.29Z" fill="none" stroke="#111" stroke-width="1.7" stroke-linejoin="miter" stroke-miterlimit="10"/>
<path d="M702.06,78.66 Q705.80,85.26 713.29,84.12 Q709.56,77.52 702.06,78.66Z" fill="none" stroke="#111" stroke-width="1.7" stroke-linejoin="miter" stroke-miterlimit="10"/>
<path d="M704.13,87.41 Q706.93,94.45 714.51,94.34 Q711.70,87.30 704.13,87.41Z" fill="none" stroke="#111" stroke-width="1.7" stroke-linejoin="miter" stroke-miterlimit="10"/>
<rect x="592.30" y="103.9" width="19.20" height="21.90" rx="1" fill="#111"/>
<polygon points="598.50,103.40 605.30,103.40 605.30,118.30 601.90,115.90 598.50,118.30" fill="#fff"/>
<polygon points="600.60,126.30 601.90,123.40 603.20,126.30" fill="#fff"/>
<rect x="613.10" y="103.90" width="5.40" height="21.90" fill="#111"/>
<path d="M620.7,103.9 h6.1 v17.10 h7.30 v4.80 h-13.40Z" fill="#111"/>
<path d="M635.5,103.9 h6.1 v17.10 h7.70 v4.80 h-13.80Z" fill="#111"/>
<rect x="651.9" y="103.9" width="15.0" height="21.90" rx="1.5" fill="#111"/>
<rect x="657.10" y="108.70" width="4.30" height="13.30" fill="#fff"/>
<rect x="668.90" y="103.9" width="19.10" height="21.90" rx="1" fill="#111"/>
<polygon points="675.10,103.40 681.80,103.40 681.80,118.30 678.45,115.90 675.10,118.30" fill="#fff"/>
<polygon points="677.15,126.30 678.45,123.40 679.75,126.30" fill="#fff"/>
<text x="592.6" y="139.2" font-family="Liberation Sans" font-size="14.8" fill="#151515" stroke="#151515" stroke-width="0.45" textLength="93.4" lengthAdjust="spacingAndGlyphs">COLLECTIONS</text>
<g><path d="M636.4,76.8 C637.6,80 638.4,84 639,88 C639.5,91.5 640,94 640.6,96.5 L647.6,96.5 C646.5,93 645.6,90 644.9,86.5 C644.3,83 644,80 643.8,76.8 Z" fill="#111"/><path d="M630.5,98.3 C634,97 637,96 640,95.2 L646,95.2 C649.5,96 653,97 657.5,98.3 C652,97.6 648,97.5 645,97.6 L640,97.6 C636,97.6 633,97.8 630.5,98.3Z" fill="#111"/><path d="M637.5,77.5 C632,75.8 624,75.2 617.4,75.7 C612,76.2 608,75 604.5,73" fill="none" stroke="#151515" stroke-width="1.5" stroke-linecap="round"/><path d="M637.8,77.5 C636,72 633,66 628,60 C625,56 622.5,53 620.5,50" fill="none" stroke="#151515" stroke-width="1.1" stroke-linecap="round"/><path d="M639,77 C640,70 641,62 640.8,55 C640.6,51 640,48 639.5,45" fill="none" stroke="#151515" stroke-width="1.0" stroke-linecap="round"/><path d="M639.5,77 C643,72 648,67 652,63 C654.5,60 656.5,58 658,55" fill="none" stroke="#151515" stroke-width="1.1" stroke-linecap="round"/><path d="M640,78.5 C646,77 654,76.5 661,77.5 C666,78 670,75 672.5,68" fill="none" stroke="#151515" stroke-width="1.5" stroke-linecap="round"/><path d="M628,60 C624,58 619,56 615.5,54" fill="none" stroke="#151515" stroke-width="0.9" stroke-linecap="round"/><path d="M652,63 C657,62 662,60 666,57" fill="none" stroke="#151515" stroke-width="0.9" stroke-linecap="round"/><path d="M617.4,75.7 C613,80 610,85 608,90" fill="none" stroke="#151515" stroke-width="0.8" stroke-linecap="round"/><path d="M661,77.5 C665,82 667,86 668,90" fill="none" stroke="#151515" stroke-width="0.8" stroke-linecap="round"/><line x1="674.0" y1="62.2" x2="673.9" y2="65.6" stroke="#1a1a1a" stroke-width="0.85" stroke-opacity="0.75"/><line x1="615.5" y1="64.9" x2="614.0" y2="68.5" stroke="#1a1a1a" stroke-width="0.85" stroke-opacity="0.75"/><line x1="607.9" y1="83.7" x2="606.7" y2="85.4" stroke="#1a1a1a" stroke-width="0.85" stroke-opacity="0.75"/><line x1="641.2" y1="38.8" x2="643.3" y2="40.3" stroke="#1a1a1a" stroke-width="0.85" stroke-opacity="0.75"/><line x1="638.8" y1="52.7" x2="634.4" y2="52.7" stroke="#1a1a1a" stroke-width="0.85" stroke-opacity="0.75"/><line x1="666.5" y1="77.4" x2="667.9" y2="79.5" stroke="#1a1a1a" stroke-width="0.85" stroke-opacity="0.75"/><line x1="662.6" y1="59.3" x2="660.0" y2="60.7" stroke="#1a1a1a" stroke-width="0.85" stroke-opacity="0.75"/><line x1="674.3" y1="64.1" x2="671.3" y2="64.3" stroke="#1a1a1a" stroke-width="0.85" stroke-opacity="0.75"/><line x1="606.9" y1="72.9" x2="604.8" y2="74.6" stroke="#1a1a1a" stroke-width="0.85" stroke-opacity="0.75"/><line x1="664.0" y1="45.2" x2="663.5" y2="48.2" stroke="#1a1a1a" stroke-width="0.85" stroke-opacity="0.75"/><line x1="613.6" y1="79.2" x2="616.9" y2="80.6" stroke="#1a1a1a" stroke-width="0.85" stroke-opacity="0.75"/><line x1="608.3" y1="60.4" x2="610.4" y2="62.1" stroke="#1a1a1a" stroke-width="0.85" stroke-opacity="0.75"/><line x1="618.4" y1="58.9" x2="615.3" y2="60.4" stroke="#1a1a1a" stroke-width="0.85" stroke-opacity="0.75"/><line x1="618.1" y1="50.6" x2="616.0" y2="52.4" stroke="#1a1a1a" stroke-width="0.85" stroke-opacity="0.75"/><line x1="606.0" y1="69.8" x2="608.5" y2="72.2" stroke="#1a1a1a" stroke-width="0.85" stroke-opacity="0.75"/><line x1="631.3" y1="63.0" x2="628.2" y2="63.4" stroke="#1a1a1a" stroke-width="0.85" stroke-opacity="0.75"/><line x1="671.8" y1="84.2" x2="673.5" y2="85.9" stroke="#1a1a1a" stroke-width="0.85" stroke-opacity="0.75"/><line x1="617.3" y1="92.4" x2="614.1" y2="93.6" stroke="#1a1a1a" stroke-width="0.85" stroke-opacity="0.75"/><line x1="631.6" y1="42.0" x2="635.9" y2="42.5" stroke="#1a1a1a" stroke-width="0.85" stroke-opacity="0.75"/><line x1="617.7" y1="76.8" x2="620.4" y2="79.7" stroke="#1a1a1a" stroke-width="0.85" stroke-opacity="0.75"/><line x1="646.1" y1="52.6" x2="649.3" y2="54.6" stroke="#1a1a1a" stroke-width="0.85" stroke-opacity="0.75"/><line x1="650.3" y1="52.5" x2="647.9" y2="53.1" stroke="#1a1a1a" stroke-width="0.85" stroke-opacity="0.75"/><line x1="634.4" y1="38.9" x2="636.9" y2="40.4" stroke="#1a1a1a" stroke-width="0.85" stroke-opacity="0.75"/><line x1="644.9" y1="42.0" x2="646.6" y2="45.8" stroke="#1a1a1a" stroke-width="0.85" stroke-opacity="0.75"/><line x1="607.4" y1="67.2" x2="604.6" y2="70.3" stroke="#1a1a1a" stroke-width="0.85" stroke-opacity="0.75"/><line x1="660.6" y1="77.0" x2="657.3" y2="79.5" stroke="#1a1a1a" stroke-width="0.85" stroke-opacity="0.75"/><line x1="630.1" y1="76.5" x2="626.2" y2="77.7" stroke="#1a1a1a" stroke-width="0.85" stroke-opacity="0.75"/><line x1="669.6" y1="69.0" x2="668.5" y2="71.7" stroke="#1a1a1a" stroke-width="0.85" stroke-opacity="0.75"/><line x1="608.5" y1="74.3" x2="604.4" y2="74.4" stroke="#1a1a1a" stroke-width="0.85" stroke-opacity="0.75"/><line x1="659.4" y1="58.1" x2="657.1" y2="60.6" stroke="#1a1a1a" stroke-width="0.85" stroke-opacity="0.75"/><line x1="605.0" y1="80.9" x2="608.4" y2="81.2" stroke="#1a1a1a" stroke-width="0.85" stroke-opacity="0.75"/><line x1="639.4" y1="48.5" x2="637.5" y2="51.1" stroke="#1a1a1a" stroke-width="0.85" stroke-opacity="0.75"/><line x1="623.1" y1="76.0" x2="625.1" y2="77.4" stroke="#1a1a1a" stroke-width="0.85" stroke-opacity="0.75"/><line x1="672.1" y1="73.6" x2="672.8" y2="77.6" stroke="#1a1a1a" stroke-width="0.85" stroke-opacity="0.75"/><line x1="624.9" y1="75.1" x2="627.4" y2="76.8" stroke="#1a1a1a" stroke-width="0.85" stroke-opacity="0.75"/><line x1="665.8" y1="90.3" x2="663.1" y2="91.4" stroke="#1a1a1a" stroke-width="0.85" stroke-opacity="0.75"/><line x1="645.2" y1="54.3" x2="648.1" y2="55.7" stroke="#1a1a1a" stroke-width="0.85" stroke-opacity="0.75"/><line x1="668.3" y1="85.2" x2="665.6" y2="88.6" stroke="#1a1a1a" stroke-width="0.85" stroke-opacity="0.75"/><line x1="621.9" y1="44.8" x2="622.3" y2="47.5" stroke="#1a1a1a" stroke-width="0.85" stroke-opacity="0.75"/><line x1="617.7" y1="59.4" x2="616.5" y2="62.3" stroke="#1a1a1a" stroke-width="0.85" stroke-opacity="0.75"/><line x1="623.6" y1="83.4" x2="625.9" y2="83.6" stroke="#1a1a1a" stroke-width="0.85" stroke-opacity="0.75"/><line x1="665.4" y1="49.8" x2="667.3" y2="50.7" stroke="#1a1a1a" stroke-width="0.85" stroke-opacity="0.75"/><line x1="651.0" y1="61.1" x2="649.6" y2="64.4" stroke="#1a1a1a" stroke-width="0.85" stroke-opacity="0.75"/><line x1="654.7" y1="46.7" x2="654.9" y2="49.2" stroke="#1a1a1a" stroke-width="0.85" stroke-opacity="0.75"/><line x1="656.2" y1="45.7" x2="658.1" y2="47.8" stroke="#1a1a1a" stroke-width="0.85" stroke-opacity="0.75"/><line x1="656.5" y1="65.4" x2="655.1" y2="69.0" stroke="#1a1a1a" stroke-width="0.85" stroke-opacity="0.75"/><line x1="673.2" y1="78.7" x2="676.0" y2="80.0" stroke="#1a1a1a" stroke-width="0.85" stroke-opacity="0.75"/><line x1="671.9" y1="83.5" x2="668.8" y2="84.1" stroke="#1a1a1a" stroke-width="0.85" stroke-opacity="0.75"/><line x1="653.4" y1="46.8" x2="650.8" y2="49.8" stroke="#1a1a1a" stroke-width="0.85" stroke-opacity="0.75"/><line x1="619.2" y1="89.9" x2="614.9" y2="90.1" stroke="#1a1a1a" stroke-width="0.85" stroke-opacity="0.75"/><line x1="667.0" y1="56.5" x2="669.9" y2="57.3" stroke="#1a1a1a" stroke-width="0.85" stroke-opacity="0.75"/><line x1="639.9" y1="37.1" x2="638.1" y2="38.3" stroke="#1a1a1a" stroke-width="0.85" stroke-opacity="0.75"/><line x1="663.0" y1="44.7" x2="665.0" y2="48.1" stroke="#1a1a1a" stroke-width="0.85" stroke-opacity="0.75"/><line x1="668.8" y1="77.1" x2="665.6" y2="77.6" stroke="#1a1a1a" stroke-width="0.85" stroke-opacity="0.75"/><line x1="616.6" y1="66.1" x2="618.9" y2="69.1" stroke="#1a1a1a" stroke-width="0.85" stroke-opacity="0.75"/><line x1="652.6" y1="66.6" x2="649.6" y2="68.2" stroke="#1a1a1a" stroke-width="0.85" stroke-opacity="0.75"/><line x1="626.8" y1="57.9" x2="623.1" y2="59.8" stroke="#1a1a1a" stroke-width="0.85" stroke-opacity="0.75"/><line x1="618.3" y1="86.9" x2="615.0" y2="87.2" stroke="#1a1a1a" stroke-width="0.85" stroke-opacity="0.75"/><line x1="646.0" y1="46.5" x2="645.7" y2="49.7" stroke="#1a1a1a" stroke-width="0.85" stroke-opacity="0.75"/><line x1="645.6" y1="64.6" x2="644.4" y2="66.4" stroke="#1a1a1a" stroke-width="0.85" stroke-opacity="0.75"/><line x1="645.2" y1="60.5" x2="641.0" y2="61.1" stroke="#1a1a1a" stroke-width="0.85" stroke-opacity="0.75"/><line x1="620.1" y1="63.8" x2="622.9" y2="65.0" stroke="#1a1a1a" stroke-width="0.85" stroke-opacity="0.75"/><line x1="665.2" y1="88.7" x2="665.4" y2="91.4" stroke="#1a1a1a" stroke-width="0.85" stroke-opacity="0.75"/><line x1="616.4" y1="72.8" x2="614.2" y2="73.3" stroke="#1a1a1a" stroke-width="0.85" stroke-opacity="0.75"/><line x1="616.3" y1="48.5" x2="614.8" y2="50.8" stroke="#1a1a1a" stroke-width="0.85" stroke-opacity="0.75"/><line x1="606.9" y1="79.2" x2="609.9" y2="80.5" stroke="#1a1a1a" stroke-width="0.85" stroke-opacity="0.75"/><line x1="620.2" y1="46.3" x2="619.9" y2="49.4" stroke="#1a1a1a" stroke-width="0.85" stroke-opacity="0.75"/><line x1="630.2" y1="59.6" x2="629.9" y2="62.0" stroke="#1a1a1a" stroke-width="0.85" stroke-opacity="0.75"/><line x1="617.0" y1="72.4" x2="615.7" y2="75.4" stroke="#1a1a1a" stroke-width="0.85" stroke-opacity="0.75"/><line x1="669.3" y1="72.1" x2="666.9" y2="73.3" stroke="#1a1a1a" stroke-width="0.85" stroke-opacity="0.75"/><line x1="660.6" y1="84.2" x2="657.9" y2="85.0" stroke="#1a1a1a" stroke-width="0.85" stroke-opacity="0.75"/><line x1="618.4" y1="78.8" x2="619.9" y2="80.4" stroke="#1a1a1a" stroke-width="0.85" stroke-opacity="0.75"/><line x1="667.5" y1="60.6" x2="665.7" y2="62.0" stroke="#1a1a1a" stroke-width="0.85" stroke-opacity="0.75"/><line x1="644.4" y1="65.7" x2="643.9" y2="68.0" stroke="#1a1a1a" stroke-width="0.85" stroke-opacity="0.75"/><line x1="616.7" y1="47.2" x2="612.8" y2="49.3" stroke="#1a1a1a" stroke-width="0.85" stroke-opacity="0.75"/><line x1="626.2" y1="62.5" x2="626.1" y2="65.5" stroke="#1a1a1a" stroke-width="0.85" stroke-opacity="0.75"/><line x1="615.5" y1="62.2" x2="613.5" y2="64.3" stroke="#1a1a1a" stroke-width="0.85" stroke-opacity="0.75"/><line x1="672.7" y1="82.5" x2="670.2" y2="85.7" stroke="#1a1a1a" stroke-width="0.85" stroke-opacity="0.75"/><line x1="650.8" y1="58.7" x2="649.9" y2="61.8" stroke="#1a1a1a" stroke-width="0.85" stroke-opacity="0.75"/><line x1="660.8" y1="81.9" x2="658.3" y2="83.5" stroke="#1a1a1a" stroke-width="0.85" stroke-opacity="0.75"/><line x1="672.8" y1="87.2" x2="670.6" y2="90.4" stroke="#1a1a1a" stroke-width="0.85" stroke-opacity="0.75"/><line x1="661.9" y1="59.5" x2="660.5" y2="61.2" stroke="#1a1a1a" stroke-width="0.85" stroke-opacity="0.75"/><line x1="625.9" y1="64.1" x2="628.8" y2="64.2" stroke="#1a1a1a" stroke-width="0.85" stroke-opacity="0.75"/><line x1="654.1" y1="54.8" x2="652.5" y2="57.7" stroke="#1a1a1a" stroke-width="0.85" stroke-opacity="0.75"/><line x1="644.4" y1="59.4" x2="640.9" y2="59.4" stroke="#1a1a1a" stroke-width="0.85" stroke-opacity="0.75"/><line x1="619.3" y1="59.9" x2="621.7" y2="60.3" stroke="#1a1a1a" stroke-width="0.85" stroke-opacity="0.75"/><line x1="628.6" y1="40.4" x2="631.5" y2="43.4" stroke="#1a1a1a" stroke-width="0.85" stroke-opacity="0.75"/><line x1="645.7" y1="66.3" x2="642.3" y2="66.6" stroke="#1a1a1a" stroke-width="0.85" stroke-opacity="0.75"/><line x1="611.4" y1="63.5" x2="614.2" y2="65.1" stroke="#1a1a1a" stroke-width="0.85" stroke-opacity="0.75"/><line x1="650.4" y1="39.3" x2="647.4" y2="39.8" stroke="#1a1a1a" stroke-width="0.85" stroke-opacity="0.75"/><line x1="630.0" y1="51.7" x2="628.5" y2="54.6" stroke="#1a1a1a" stroke-width="0.85" stroke-opacity="0.75"/><line x1="622.1" y1="78.2" x2="623.3" y2="79.8" stroke="#1a1a1a" stroke-width="0.85" stroke-opacity="0.75"/><line x1="611.8" y1="79.3" x2="613.2" y2="83.2" stroke="#1a1a1a" stroke-width="0.85" stroke-opacity="0.75"/><line x1="635.6" y1="64.5" x2="633.1" y2="64.8" stroke="#1a1a1a" stroke-width="0.85" stroke-opacity="0.75"/><line x1="659.8" y1="64.0" x2="655.8" y2="64.2" stroke="#1a1a1a" stroke-width="0.85" stroke-opacity="0.75"/><line x1="648.9" y1="41.5" x2="647.7" y2="44.3" stroke="#1a1a1a" stroke-width="0.85" stroke-opacity="0.75"/><line x1="641.9" y1="41.7" x2="642.6" y2="45.2" stroke="#1a1a1a" stroke-width="0.85" stroke-opacity="0.75"/><line x1="636.8" y1="50.3" x2="636.1" y2="53.2" stroke="#1a1a1a" stroke-width="0.85" stroke-opacity="0.75"/><line x1="664.4" y1="67.8" x2="660.1" y2="67.9" stroke="#1a1a1a" stroke-width="0.85" stroke-opacity="0.75"/><line x1="656.8" y1="49.6" x2="660.7" y2="51.0" stroke="#1a1a1a" stroke-width="0.85" stroke-opacity="0.75"/><line x1="662.2" y1="72.3" x2="663.3" y2="74.7" stroke="#1a1a1a" stroke-width="0.85" stroke-opacity="0.75"/><line x1="655.3" y1="68.2" x2="654.3" y2="71.6" stroke="#1a1a1a" stroke-width="0.85" stroke-opacity="0.75"/><line x1="658.7" y1="45.9" x2="661.8" y2="48.9" stroke="#1a1a1a" stroke-width="0.85" stroke-opacity="0.75"/><line x1="672.2" y1="88.6" x2="674.3" y2="88.9" stroke="#1a1a1a" stroke-width="0.85" stroke-opacity="0.75"/><line x1="622.1" y1="60.5" x2="621.3" y2="62.6" stroke="#1a1a1a" stroke-width="0.85" stroke-opacity="0.75"/><line x1="641.6" y1="39.9" x2="645.1" y2="40.8" stroke="#1a1a1a" stroke-width="0.85" stroke-opacity="0.75"/><line x1="628.7" y1="63.8" x2="631.0" y2="65.6" stroke="#1a1a1a" stroke-width="0.85" stroke-opacity="0.75"/><line x1="658.5" y1="86.0" x2="660.7" y2="86.6" stroke="#1a1a1a" stroke-width="0.85" stroke-opacity="0.75"/><line x1="665.7" y1="72.6" x2="663.8" y2="74.3" stroke="#1a1a1a" stroke-width="0.85" stroke-opacity="0.75"/><line x1="635.1" y1="50.7" x2="632.8" y2="52.3" stroke="#1a1a1a" stroke-width="0.85" stroke-opacity="0.75"/><line x1="627.5" y1="67.4" x2="624.6" y2="70.4" stroke="#1a1a1a" stroke-width="0.85" stroke-opacity="0.75"/><line x1="632.3" y1="57.5" x2="636.2" y2="58.8" stroke="#1a1a1a" stroke-width="0.85" stroke-opacity="0.75"/><line x1="645.9" y1="64.0" x2="644.4" y2="66.2" stroke="#1a1a1a" stroke-width="0.85" stroke-opacity="0.75"/><line x1="615.7" y1="75.4" x2="618.4" y2="76.1" stroke="#1a1a1a" stroke-width="0.85" stroke-opacity="0.75"/><line x1="621.8" y1="42.9" x2="623.4" y2="46.3" stroke="#1a1a1a" stroke-width="0.85" stroke-opacity="0.75"/><line x1="630.3" y1="41.7" x2="628.3" y2="44.4" stroke="#1a1a1a" stroke-width="0.85" stroke-opacity="0.75"/><line x1="674.2" y1="61.5" x2="672.0" y2="63.1" stroke="#1a1a1a" stroke-width="0.85" stroke-opacity="0.75"/><line x1="627.4" y1="59.6" x2="623.4" y2="60.4" stroke="#1a1a1a" stroke-width="0.85" stroke-opacity="0.75"/><line x1="619.3" y1="56.4" x2="620.5" y2="59.0" stroke="#1a1a1a" stroke-width="0.85" stroke-opacity="0.75"/><line x1="630.3" y1="58.3" x2="633.0" y2="60.2" stroke="#1a1a1a" stroke-width="0.85" stroke-opacity="0.75"/><line x1="665.2" y1="67.6" x2="662.3" y2="69.3" stroke="#1a1a1a" stroke-width="0.85" stroke-opacity="0.75"/><line x1="615.4" y1="81.0" x2="612.9" y2="82.0" stroke="#1a1a1a" stroke-width="0.85" stroke-opacity="0.75"/><line x1="678.2" y1="74.5" x2="676.4" y2="75.7" stroke="#1a1a1a" stroke-width="0.85" stroke-opacity="0.75"/><line x1="605.1" y1="73.2" x2="608.5" y2="74.9" stroke="#1a1a1a" stroke-width="0.85" stroke-opacity="0.75"/><line x1="650.4" y1="49.5" x2="653.4" y2="52.0" stroke="#1a1a1a" stroke-width="0.85" stroke-opacity="0.75"/><line x1="633.3" y1="56.1" x2="629.8" y2="56.4" stroke="#1a1a1a" stroke-width="0.85" stroke-opacity="0.75"/><line x1="674.7" y1="59.7" x2="671.7" y2="61.6" stroke="#1a1a1a" stroke-width="0.85" stroke-opacity="0.75"/><line x1="670.1" y1="83.3" x2="666.5" y2="85.4" stroke="#1a1a1a" stroke-width="0.85" stroke-opacity="0.75"/><line x1="676.8" y1="72.6" x2="676.5" y2="76.3" stroke="#1a1a1a" stroke-width="0.85" stroke-opacity="0.75"/><line x1="663.9" y1="60.2" x2="664.5" y2="62.4" stroke="#1a1a1a" stroke-width="0.85" stroke-opacity="0.75"/><line x1="628.8" y1="45.2" x2="631.3" y2="47.0" stroke="#1a1a1a" stroke-width="0.85" stroke-opacity="0.75"/><line x1="610.1" y1="74.1" x2="608.3" y2="75.7" stroke="#1a1a1a" stroke-width="0.85" stroke-opacity="0.75"/><line x1="613.4" y1="47.8" x2="616.1" y2="50.3" stroke="#1a1a1a" stroke-width="0.85" stroke-opacity="0.75"/><line x1="646.5" y1="48.7" x2="648.7" y2="50.2" stroke="#1a1a1a" stroke-width="0.85" stroke-opacity="0.75"/><line x1="612.9" y1="80.1" x2="614.7" y2="82.8" stroke="#1a1a1a" stroke-width="0.85" stroke-opacity="0.75"/><line x1="664.0" y1="63.3" x2="666.8" y2="66.3" stroke="#1a1a1a" stroke-width="0.85" stroke-opacity="0.75"/><line x1="673.5" y1="54.4" x2="672.8" y2="58.6" stroke="#1a1a1a" stroke-width="0.85" stroke-opacity="0.75"/><line x1="636.5" y1="48.9" x2="640.7" y2="49.6" stroke="#1a1a1a" stroke-width="0.85" stroke-opacity="0.75"/><line x1="664.3" y1="57.5" x2="664.0" y2="60.7" stroke="#1a1a1a" stroke-width="0.85" stroke-opacity="0.75"/><line x1="651.0" y1="50.2" x2="654.2" y2="50.3" stroke="#1a1a1a" stroke-width="0.85" stroke-opacity="0.75"/><line x1="627.2" y1="50.9" x2="624.3" y2="52.2" stroke="#1a1a1a" stroke-width="0.85" stroke-opacity="0.75"/><line x1="619.6" y1="67.2" x2="623.0" y2="69.0" stroke="#1a1a1a" stroke-width="0.85" stroke-opacity="0.75"/><line x1="666.4" y1="85.0" x2="669.0" y2="85.7" stroke="#1a1a1a" stroke-width="0.85" stroke-opacity="0.75"/><line x1="640.1" y1="63.9" x2="636.7" y2="64.4" stroke="#1a1a1a" stroke-width="0.85" stroke-opacity="0.75"/><line x1="669.8" y1="53.3" x2="667.4" y2="55.1" stroke="#1a1a1a" stroke-width="0.85" stroke-opacity="0.75"/><line x1="666.3" y1="46.9" x2="665.9" y2="50.1" stroke="#1a1a1a" stroke-width="0.85" stroke-opacity="0.75"/><line x1="611.8" y1="84.8" x2="613.4" y2="87.1" stroke="#1a1a1a" stroke-width="0.85" stroke-opacity="0.75"/><line x1="627.4" y1="76.7" x2="630.2" y2="77.7" stroke="#1a1a1a" stroke-width="0.85" stroke-opacity="0.75"/><line x1="664.9" y1="75.2" x2="667.8" y2="75.3" stroke="#1a1a1a" stroke-width="0.85" stroke-opacity="0.75"/><line x1="657.1" y1="48.7" x2="656.5" y2="51.8" stroke="#1a1a1a" stroke-width="0.85" stroke-opacity="0.75"/><line x1="664.4" y1="47.1" x2="663.5" y2="49.7" stroke="#1a1a1a" stroke-width="0.85" stroke-opacity="0.75"/><line x1="629.2" y1="67.3" x2="630.9" y2="69.5" stroke="#1a1a1a" stroke-width="0.85" stroke-opacity="0.75"/><line x1="621.4" y1="47.0" x2="619.6" y2="49.0" stroke="#1a1a1a" stroke-width="0.85" stroke-opacity="0.75"/><line x1="676.5" y1="68.7" x2="674.7" y2="70.8" stroke="#1a1a1a" stroke-width="0.85" stroke-opacity="0.75"/><line x1="615.9" y1="59.3" x2="612.9" y2="61.0" stroke="#1a1a1a" stroke-width="0.85" stroke-opacity="0.75"/><line x1="634.0" y1="40.0" x2="631.1" y2="40.7" stroke="#1a1a1a" stroke-width="0.85" stroke-opacity="0.75"/><line x1="660.9" y1="84.0" x2="661.8" y2="86.6" stroke="#1a1a1a" stroke-width="0.85" stroke-opacity="0.75"/><line x1="608.6" y1="56.7" x2="608.4" y2="60.6" stroke="#1a1a1a" stroke-width="0.85" stroke-opacity="0.75"/><line x1="664.3" y1="71.8" x2="667.7" y2="73.6" stroke="#1a1a1a" stroke-width="0.85" stroke-opacity="0.75"/><line x1="671.5" y1="67.5" x2="673.0" y2="70.3" stroke="#1a1a1a" stroke-width="0.85" stroke-opacity="0.75"/><line x1="613.0" y1="78.7" x2="609.7" y2="78.9" stroke="#1a1a1a" stroke-width="0.85" stroke-opacity="0.75"/><line x1="655.5" y1="84.9" x2="659.0" y2="87.4" stroke="#1a1a1a" stroke-width="0.85" stroke-opacity="0.75"/><line x1="648.9" y1="47.5" x2="651.4" y2="48.2" stroke="#1a1a1a" stroke-width="0.85" stroke-opacity="0.75"/><line x1="626.9" y1="63.0" x2="630.9" y2="64.6" stroke="#1a1a1a" stroke-width="0.85" stroke-opacity="0.75"/><line x1="611.1" y1="88.6" x2="610.6" y2="91.9" stroke="#1a1a1a" stroke-width="0.85" stroke-opacity="0.75"/><line x1="646.9" y1="51.2" x2="642.7" y2="52.5" stroke="#1a1a1a" stroke-width="0.85" stroke-opacity="0.75"/><line x1="663.6" y1="71.3" x2="667.2" y2="72.8" stroke="#1a1a1a" stroke-width="0.85" stroke-opacity="0.75"/><line x1="620.3" y1="69.8" x2="618.2" y2="71.0" stroke="#1a1a1a" stroke-width="0.85" stroke-opacity="0.75"/><line x1="642.6" y1="40.5" x2="645.0" y2="40.7" stroke="#1a1a1a" stroke-width="0.85" stroke-opacity="0.75"/><line x1="653.6" y1="52.8" x2="651.7" y2="56.1" stroke="#1a1a1a" stroke-width="0.85" stroke-opacity="0.75"/><line x1="614.6" y1="63.4" x2="617.3" y2="64.7" stroke="#1a1a1a" stroke-width="0.85" stroke-opacity="0.75"/><line x1="645.6" y1="45.1" x2="645.5" y2="47.7" stroke="#1a1a1a" stroke-width="0.85" stroke-opacity="0.75"/><line x1="645.9" y1="55.0" x2="645.0" y2="56.9" stroke="#1a1a1a" stroke-width="0.85" stroke-opacity="0.75"/><line x1="655.4" y1="44.5" x2="652.0" y2="44.9" stroke="#1a1a1a" stroke-width="0.85" stroke-opacity="0.75"/><line x1="638.3" y1="59.0" x2="636.9" y2="62.4" stroke="#1a1a1a" stroke-width="0.85" stroke-opacity="0.75"/><line x1="660.5" y1="78.9" x2="660.7" y2="83.3" stroke="#1a1a1a" stroke-width="0.85" stroke-opacity="0.75"/><line x1="666.6" y1="85.8" x2="667.5" y2="88.8" stroke="#1a1a1a" stroke-width="0.85" stroke-opacity="0.75"/><line x1="660.5" y1="53.2" x2="659.8" y2="55.3" stroke="#1a1a1a" stroke-width="0.85" stroke-opacity="0.75"/><line x1="610.0" y1="61.3" x2="609.9" y2="64.3" stroke="#1a1a1a" stroke-width="0.85" stroke-opacity="0.75"/><line x1="604.3" y1="76.4" x2="604.1" y2="79.0" stroke="#1a1a1a" stroke-width="0.85" stroke-opacity="0.75"/><line x1="623.7" y1="59.0" x2="625.3" y2="60.5" stroke="#1a1a1a" stroke-width="0.85" stroke-opacity="0.75"/><line x1="618.2" y1="78.8" x2="617.3" y2="82.8" stroke="#1a1a1a" stroke-width="0.85" stroke-opacity="0.75"/><line x1="606.4" y1="82.9" x2="609.4" y2="84.2" stroke="#1a1a1a" stroke-width="0.85" stroke-opacity="0.75"/><line x1="619.0" y1="53.0" x2="620.1" y2="54.9" stroke="#1a1a1a" stroke-width="0.85" stroke-opacity="0.75"/><line x1="671.2" y1="83.6" x2="672.1" y2="86.3" stroke="#1a1a1a" stroke-width="0.85" stroke-opacity="0.75"/><line x1="644.8" y1="38.6" x2="648.9" y2="39.0" stroke="#1a1a1a" stroke-width="0.85" stroke-opacity="0.75"/><line x1="626.8" y1="65.5" x2="622.5" y2="66.4" stroke="#1a1a1a" stroke-width="0.85" stroke-opacity="0.75"/><line x1="636.5" y1="46.7" x2="639.1" y2="50.1" stroke="#1a1a1a" stroke-width="0.85" stroke-opacity="0.75"/><line x1="666.9" y1="56.0" x2="667.1" y2="58.5" stroke="#1a1a1a" stroke-width="0.85" stroke-opacity="0.75"/><line x1="614.5" y1="72.8" x2="617.9" y2="75.1" stroke="#1a1a1a" stroke-width="0.85" stroke-opacity="0.75"/><line x1="660.0" y1="54.1" x2="656.1" y2="55.4" stroke="#1a1a1a" stroke-width="0.85" stroke-opacity="0.75"/><line x1="658.3" y1="42.4" x2="655.8" y2="45.8" stroke="#1a1a1a" stroke-width="0.85" stroke-opacity="0.75"/><line x1="634.6" y1="39.9" x2="636.7" y2="41.6" stroke="#1a1a1a" stroke-width="0.85" stroke-opacity="0.75"/><line x1="655.8" y1="47.1" x2="657.9" y2="48.5" stroke="#1a1a1a" stroke-width="0.85" stroke-opacity="0.75"/><line x1="669.7" y1="70.5" x2="671.8" y2="72.3" stroke="#1a1a1a" stroke-width="0.85" stroke-opacity="0.75"/><line x1="673.0" y1="74.7" x2="675.3" y2="77.4" stroke="#1a1a1a" stroke-width="0.85" stroke-opacity="0.75"/><line x1="642.9" y1="37.4" x2="642.1" y2="40.0" stroke="#1a1a1a" stroke-width="0.85" stroke-opacity="0.75"/><line x1="618.8" y1="83.8" x2="621.4" y2="84.6" stroke="#1a1a1a" stroke-width="0.85" stroke-opacity="0.75"/><line x1="659.4" y1="49.5" x2="661.5" y2="52.0" stroke="#1a1a1a" stroke-width="0.85" stroke-opacity="0.75"/><line x1="615.9" y1="89.8" x2="613.9" y2="89.9" stroke="#1a1a1a" stroke-width="0.85" stroke-opacity="0.75"/><line x1="640.3" y1="45.0" x2="639.7" y2="48.5" stroke="#1a1a1a" stroke-width="0.85" stroke-opacity="0.75"/><line x1="662.7" y1="65.0" x2="662.6" y2="69.0" stroke="#1a1a1a" stroke-width="0.85" stroke-opacity="0.75"/><line x1="655.9" y1="67.0" x2="653.5" y2="67.4" stroke="#1a1a1a" stroke-width="0.85" stroke-opacity="0.75"/><line x1="662.8" y1="44.7" x2="661.9" y2="47.1" stroke="#1a1a1a" stroke-width="0.85" stroke-opacity="0.75"/><line x1="661.8" y1="82.4" x2="664.1" y2="84.5" stroke="#1a1a1a" stroke-width="0.85" stroke-opacity="0.75"/><line x1="617.7" y1="69.8" x2="617.7" y2="71.8" stroke="#1a1a1a" stroke-width="0.85" stroke-opacity="0.75"/><line x1="633.4" y1="61.1" x2="636.1" y2="63.9" stroke="#1a1a1a" stroke-width="0.85" stroke-opacity="0.75"/><line x1="662.1" y1="49.7" x2="664.6" y2="50.9" stroke="#1a1a1a" stroke-width="0.85" stroke-opacity="0.75"/><line x1="648.5" y1="66.3" x2="650.8" y2="68.8" stroke="#1a1a1a" stroke-width="0.85" stroke-opacity="0.75"/><line x1="606.0" y1="84.6" x2="608.2" y2="85.9" stroke="#1a1a1a" stroke-width="0.85" stroke-opacity="0.75"/><line x1="614.5" y1="76.5" x2="611.1" y2="78.4" stroke="#1a1a1a" stroke-width="0.85" stroke-opacity="0.75"/><line x1="630.2" y1="48.9" x2="628.1" y2="49.1" stroke="#1a1a1a" stroke-width="0.85" stroke-opacity="0.75"/><line x1="631.2" y1="52.8" x2="631.7" y2="54.9" stroke="#1a1a1a" stroke-width="0.85" stroke-opacity="0.75"/><line x1="660.1" y1="79.2" x2="662.0" y2="80.9" stroke="#1a1a1a" stroke-width="0.85" stroke-opacity="0.75"/><line x1="643.9" y1="48.4" x2="644.4" y2="52.6" stroke="#1a1a1a" stroke-width="0.85" stroke-opacity="0.75"/><line x1="630.8" y1="56.1" x2="627.4" y2="56.3" stroke="#1a1a1a" stroke-width="0.85" stroke-opacity="0.75"/><line x1="629.0" y1="77.0" x2="625.9" y2="78.4" stroke="#1a1a1a" stroke-width="0.85" stroke-opacity="0.75"/><line x1="670.2" y1="61.9" x2="671.6" y2="65.7" stroke="#1a1a1a" stroke-width="0.85" stroke-opacity="0.75"/><line x1="615.8" y1="55.9" x2="618.6" y2="57.7" stroke="#1a1a1a" stroke-width="0.85" stroke-opacity="0.75"/><line x1="616.3" y1="62.8" x2="618.0" y2="65.3" stroke="#1a1a1a" stroke-width="0.85" stroke-opacity="0.75"/><line x1="631.4" y1="39.2" x2="629.8" y2="41.6" stroke="#1a1a1a" stroke-width="0.85" stroke-opacity="0.75"/><line x1="613.9" y1="49.7" x2="615.3" y2="53.7" stroke="#1a1a1a" stroke-width="0.85" stroke-opacity="0.75"/><line x1="656.7" y1="51.0" x2="657.7" y2="53.2" stroke="#1a1a1a" stroke-width="0.85" stroke-opacity="0.75"/><line x1="662.2" y1="79.1" x2="660.3" y2="79.7" stroke="#1a1a1a" stroke-width="0.85" stroke-opacity="0.75"/><line x1="623.8" y1="58.5" x2="627.8" y2="59.6" stroke="#1a1a1a" stroke-width="0.85" stroke-opacity="0.75"/><line x1="626.1" y1="81.2" x2="626.0" y2="83.3" stroke="#1a1a1a" stroke-width="0.85" stroke-opacity="0.75"/><line x1="630.3" y1="50.1" x2="632.7" y2="50.4" stroke="#1a1a1a" stroke-width="0.85" stroke-opacity="0.75"/><line x1="625.1" y1="60.3" x2="624.8" y2="62.6" stroke="#1a1a1a" stroke-width="0.85" stroke-opacity="0.75"/><line x1="657.7" y1="50.3" x2="655.4" y2="53.0" stroke="#1a1a1a" stroke-width="0.85" stroke-opacity="0.75"/><line x1="622.0" y1="77.4" x2="622.9" y2="80.2" stroke="#1a1a1a" stroke-width="0.85" stroke-opacity="0.75"/><line x1="622.5" y1="56.0" x2="624.2" y2="57.4" stroke="#1a1a1a" stroke-width="0.85" stroke-opacity="0.75"/><line x1="618.4" y1="75.5" x2="616.2" y2="79.2" stroke="#1a1a1a" stroke-width="0.85" stroke-opacity="0.75"/><line x1="650.3" y1="40.0" x2="650.9" y2="42.8" stroke="#1a1a1a" stroke-width="0.85" stroke-opacity="0.75"/><line x1="625.5" y1="64.9" x2="627.0" y2="66.7" stroke="#1a1a1a" stroke-width="0.85" stroke-opacity="0.75"/><line x1="630.6" y1="63.6" x2="633.8" y2="65.4" stroke="#1a1a1a" stroke-width="0.85" stroke-opacity="0.75"/><line x1="625.8" y1="60.6" x2="628.9" y2="62.1" stroke="#1a1a1a" stroke-width="0.85" stroke-opacity="0.75"/><line x1="656.7" y1="68.4" x2="655.5" y2="70.0" stroke="#1a1a1a" stroke-width="0.85" stroke-opacity="0.75"/><line x1="629.9" y1="57.6" x2="632.8" y2="58.1" stroke="#1a1a1a" stroke-width="0.85" stroke-opacity="0.75"/><line x1="646.2" y1="63.0" x2="647.6" y2="65.2" stroke="#1a1a1a" stroke-width="0.85" stroke-opacity="0.75"/><line x1="670.1" y1="68.6" x2="672.6" y2="71.3" stroke="#1a1a1a" stroke-width="0.85" stroke-opacity="0.75"/><line x1="615.6" y1="62.1" x2="614.1" y2="66.2" stroke="#1a1a1a" stroke-width="0.85" stroke-opacity="0.75"/><line x1="676.1" y1="80.7" x2="674.7" y2="83.9" stroke="#1a1a1a" stroke-width="0.85" stroke-opacity="0.75"/><line x1="631.6" y1="59.4" x2="634.2" y2="62.5" stroke="#1a1a1a" stroke-width="0.85" stroke-opacity="0.75"/><line x1="671.4" y1="58.6" x2="669.4" y2="59.2" stroke="#1a1a1a" stroke-width="0.85" stroke-opacity="0.75"/><line x1="610.1" y1="65.2" x2="611.7" y2="67.6" stroke="#1a1a1a" stroke-width="0.85" stroke-opacity="0.75"/><line x1="616.1" y1="48.6" x2="614.7" y2="50.8" stroke="#1a1a1a" stroke-width="0.85" stroke-opacity="0.75"/><line x1="631.5" y1="48.6" x2="631.5" y2="52.1" stroke="#1a1a1a" stroke-width="0.85" stroke-opacity="0.75"/><line x1="626.1" y1="77.5" x2="624.0" y2="80.4" stroke="#1a1a1a" stroke-width="0.85" stroke-opacity="0.75"/><line x1="612.7" y1="71.6" x2="612.8" y2="75.0" stroke="#1a1a1a" stroke-width="0.85" stroke-opacity="0.75"/><line x1="630.7" y1="52.0" x2="628.4" y2="54.3" stroke="#1a1a1a" stroke-width="0.85" stroke-opacity="0.75"/><line x1="618.3" y1="49.9" x2="619.6" y2="52.0" stroke="#1a1a1a" stroke-width="0.85" stroke-opacity="0.75"/><line x1="640.0" y1="43.3" x2="642.2" y2="43.8" stroke="#1a1a1a" stroke-width="0.85" stroke-opacity="0.75"/><line x1="606.7" y1="77.8" x2="609.6" y2="78.8" stroke="#1a1a1a" stroke-width="0.85" stroke-opacity="0.75"/><line x1="660.0" y1="63.8" x2="663.5" y2="65.8" stroke="#1a1a1a" stroke-width="0.85" stroke-opacity="0.75"/><line x1="621.5" y1="65.6" x2="619.1" y2="67.3" stroke="#1a1a1a" stroke-width="0.85" stroke-opacity="0.75"/><line x1="658.1" y1="50.0" x2="656.4" y2="52.2" stroke="#1a1a1a" stroke-width="0.85" stroke-opacity="0.75"/><line x1="628.5" y1="80.6" x2="625.0" y2="82.5" stroke="#1a1a1a" stroke-width="0.85" stroke-opacity="0.75"/><line x1="646.5" y1="59.8" x2="644.3" y2="62.6" stroke="#1a1a1a" stroke-width="0.85" stroke-opacity="0.75"/><line x1="665.1" y1="83.5" x2="667.8" y2="84.6" stroke="#1a1a1a" stroke-width="0.85" stroke-opacity="0.75"/><line x1="652.7" y1="49.3" x2="654.4" y2="50.4" stroke="#1a1a1a" stroke-width="0.85" stroke-opacity="0.75"/><line x1="655.6" y1="59.8" x2="654.4" y2="62.5" stroke="#1a1a1a" stroke-width="0.85" stroke-opacity="0.75"/><line x1="602.9" y1="78.4" x2="604.9" y2="79.2" stroke="#1a1a1a" stroke-width="0.85" stroke-opacity="0.75"/><line x1="624.0" y1="79.9" x2="621.7" y2="79.9" stroke="#1a1a1a" stroke-width="0.85" stroke-opacity="0.75"/><line x1="642.9" y1="63.7" x2="643.9" y2="66.2" stroke="#1a1a1a" stroke-width="0.85" stroke-opacity="0.75"/><line x1="663.1" y1="85.2" x2="665.0" y2="87.5" stroke="#1a1a1a" stroke-width="0.85" stroke-opacity="0.75"/><line x1="656.5" y1="68.1" x2="654.6" y2="69.4" stroke="#1a1a1a" stroke-width="0.85" stroke-opacity="0.75"/><line x1="638.5" y1="42.4" x2="639.6" y2="44.1" stroke="#1a1a1a" stroke-width="0.85" stroke-opacity="0.75"/><line x1="645.8" y1="43.4" x2="644.8" y2="45.8" stroke="#1a1a1a" stroke-width="0.85" stroke-opacity="0.75"/><line x1="617.7" y1="63.7" x2="618.7" y2="66.1" stroke="#1a1a1a" stroke-width="0.85" stroke-opacity="0.75"/><line x1="670.2" y1="54.3" x2="672.6" y2="54.9" stroke="#1a1a1a" stroke-width="0.85" stroke-opacity="0.75"/><line x1="616.1" y1="86.5" x2="616.3" y2="89.5" stroke="#1a1a1a" stroke-width="0.85" stroke-opacity="0.75"/><line x1="662.9" y1="59.5" x2="666.2" y2="60.1" stroke="#1a1a1a" stroke-width="0.85" stroke-opacity="0.75"/><line x1="656.8" y1="46.4" x2="659.2" y2="46.7" stroke="#1a1a1a" stroke-width="0.85" stroke-opacity="0.75"/><line x1="623.5" y1="66.8" x2="626.1" y2="66.9" stroke="#1a1a1a" stroke-width="0.85" stroke-opacity="0.75"/><line x1="662.8" y1="78.3" x2="664.0" y2="82.0" stroke="#1a1a1a" stroke-width="0.85" stroke-opacity="0.75"/><line x1="667.3" y1="82.0" x2="665.1" y2="82.1" stroke="#1a1a1a" stroke-width="0.85" stroke-opacity="0.75"/><line x1="657.4" y1="50.7" x2="655.4" y2="51.3" stroke="#1a1a1a" stroke-width="0.85" stroke-opacity="0.75"/><line x1="645.6" y1="48.3" x2="646.6" y2="51.0" stroke="#1a1a1a" stroke-width="0.85" stroke-opacity="0.75"/><line x1="629.6" y1="52.3" x2="627.0" y2="53.2" stroke="#1a1a1a" stroke-width="0.85" stroke-opacity="0.75"/><line x1="608.4" y1="55.2" x2="606.7" y2="57.0" stroke="#1a1a1a" stroke-width="0.85" stroke-opacity="0.75"/><line x1="660.1" y1="67.8" x2="658.8" y2="69.8" stroke="#1a1a1a" stroke-width="0.85" stroke-opacity="0.75"/><line x1="626.4" y1="61.8" x2="629.6" y2="61.9" stroke="#1a1a1a" stroke-width="0.85" stroke-opacity="0.75"/><line x1="632.5" y1="53.2" x2="632.0" y2="57.4" stroke="#1a1a1a" stroke-width="0.85" stroke-opacity="0.75"/><line x1="615.4" y1="87.2" x2="617.4" y2="90.4" stroke="#1a1a1a" stroke-width="0.85" stroke-opacity="0.75"/><line x1="618.3" y1="59.5" x2="616.8" y2="61.5" stroke="#1a1a1a" stroke-width="0.85" stroke-opacity="0.75"/><line x1="623.2" y1="76.4" x2="620.5" y2="76.9" stroke="#1a1a1a" stroke-width="0.85" stroke-opacity="0.75"/><line x1="615.9" y1="57.4" x2="613.5" y2="57.5" stroke="#1a1a1a" stroke-width="0.85" stroke-opacity="0.75"/><line x1="651.3" y1="57.6" x2="650.2" y2="59.8" stroke="#1a1a1a" stroke-width="0.85" stroke-opacity="0.75"/><line x1="668.5" y1="72.0" x2="668.5" y2="75.4" stroke="#1a1a1a" stroke-width="0.85" stroke-opacity="0.75"/><line x1="610.0" y1="85.0" x2="608.3" y2="87.5" stroke="#1a1a1a" stroke-width="0.85" stroke-opacity="0.75"/><line x1="652.8" y1="60.0" x2="653.7" y2="62.4" stroke="#1a1a1a" stroke-width="0.85" stroke-opacity="0.75"/><line x1="641.8" y1="36.5" x2="640.6" y2="39.3" stroke="#1a1a1a" stroke-width="0.85" stroke-opacity="0.75"/><line x1="660.5" y1="53.2" x2="657.6" y2="56.4" stroke="#1a1a1a" stroke-width="0.85" stroke-opacity="0.75"/><line x1="640.8" y1="49.2" x2="637.7" y2="50.9" stroke="#1a1a1a" stroke-width="0.85" stroke-opacity="0.75"/><line x1="676.3" y1="84.8" x2="673.7" y2="86.7" stroke="#1a1a1a" stroke-width="0.85" stroke-opacity="0.75"/><line x1="668.2" y1="77.3" x2="671.0" y2="80.1" stroke="#1a1a1a" stroke-width="0.85" stroke-opacity="0.75"/><line x1="620.7" y1="74.2" x2="624.0" y2="75.0" stroke="#1a1a1a" stroke-width="0.85" stroke-opacity="0.75"/><line x1="661.5" y1="64.1" x2="664.4" y2="66.8" stroke="#1a1a1a" stroke-width="0.85" stroke-opacity="0.75"/><line x1="668.7" y1="80.2" x2="668.1" y2="84.3" stroke="#1a1a1a" stroke-width="0.85" stroke-opacity="0.75"/><line x1="627.9" y1="41.9" x2="630.7" y2="42.2" stroke="#1a1a1a" stroke-width="0.85" stroke-opacity="0.75"/><line x1="668.1" y1="85.6" x2="670.3" y2="86.5" stroke="#1a1a1a" stroke-width="0.85" stroke-opacity="0.75"/><line x1="618.3" y1="73.0" x2="614.8" y2="74.5" stroke="#1a1a1a" stroke-width="0.85" stroke-opacity="0.75"/><line x1="615.5" y1="75.1" x2="616.0" y2="77.1" stroke="#1a1a1a" stroke-width="0.85" stroke-opacity="0.75"/><line x1="627.7" y1="53.7" x2="626.6" y2="56.1" stroke="#1a1a1a" stroke-width="0.85" stroke-opacity="0.75"/><line x1="654.5" y1="63.5" x2="656.5" y2="64.4" stroke="#1a1a1a" stroke-width="0.85" stroke-opacity="0.75"/><line x1="674.7" y1="71.5" x2="675.8" y2="73.7" stroke="#1a1a1a" stroke-width="0.85" stroke-opacity="0.75"/><line x1="658.1" y1="56.4" x2="659.7" y2="58.9" stroke="#1a1a1a" stroke-width="0.85" stroke-opacity="0.75"/><line x1="611.2" y1="71.9" x2="612.2" y2="75.8" stroke="#1a1a1a" stroke-width="0.85" stroke-opacity="0.75"/><line x1="632.8" y1="61.3" x2="632.7" y2="65.5" stroke="#1a1a1a" stroke-width="0.85" stroke-opacity="0.75"/><line x1="626.5" y1="77.1" x2="629.0" y2="79.4" stroke="#1a1a1a" stroke-width="0.85" stroke-opacity="0.75"/><line x1="655.6" y1="63.0" x2="652.7" y2="63.6" stroke="#1a1a1a" stroke-width="0.85" stroke-opacity="0.75"/><line x1="635.5" y1="38.6" x2="636.2" y2="41.1" stroke="#1a1a1a" stroke-width="0.85" stroke-opacity="0.75"/><line x1="624.1" y1="76.6" x2="622.8" y2="78.8" stroke="#1a1a1a" stroke-width="0.85" stroke-opacity="0.75"/><line x1="634.2" y1="43.5" x2="631.7" y2="44.4" stroke="#1a1a1a" stroke-width="0.85" stroke-opacity="0.75"/><line x1="635.4" y1="55.4" x2="631.9" y2="57.6" stroke="#1a1a1a" stroke-width="0.85" stroke-opacity="0.75"/><line x1="606.6" y1="89.4" x2="609.3" y2="90.2" stroke="#1a1a1a" stroke-width="0.85" stroke-opacity="0.75"/><line x1="655.6" y1="56.0" x2="651.5" y2="57.3" stroke="#1a1a1a" stroke-width="0.85" stroke-opacity="0.75"/><line x1="637.4" y1="56.3" x2="637.7" y2="59.1" stroke="#1a1a1a" stroke-width="0.85" stroke-opacity="0.75"/><line x1="667.6" y1="73.2" x2="665.0" y2="76.8" stroke="#1a1a1a" stroke-width="0.85" stroke-opacity="0.75"/><line x1="604.8" y1="62.0" x2="605.9" y2="65.4" stroke="#1a1a1a" stroke-width="0.85" stroke-opacity="0.75"/><line x1="615.4" y1="57.6" x2="618.1" y2="58.8" stroke="#1a1a1a" stroke-width="0.85" stroke-opacity="0.75"/><line x1="614.1" y1="73.2" x2="612.6" y2="76.7" stroke="#1a1a1a" stroke-width="0.85" stroke-opacity="0.75"/><line x1="621.6" y1="83.2" x2="619.0" y2="86.1" stroke="#1a1a1a" stroke-width="0.85" stroke-opacity="0.75"/><line x1="607.5" y1="64.0" x2="611.6" y2="64.2" stroke="#1a1a1a" stroke-width="0.85" stroke-opacity="0.75"/><line x1="608.0" y1="82.0" x2="609.8" y2="84.7" stroke="#1a1a1a" stroke-width="0.85" stroke-opacity="0.75"/><line x1="642.0" y1="52.8" x2="640.0" y2="54.5" stroke="#1a1a1a" stroke-width="0.85" stroke-opacity="0.75"/><line x1="631.9" y1="38.3" x2="634.3" y2="40.2" stroke="#1a1a1a" stroke-width="0.85" stroke-opacity="0.75"/><line x1="645.7" y1="63.1" x2="643.6" y2="64.1" stroke="#1a1a1a" stroke-width="0.85" stroke-opacity="0.75"/><line x1="613.5" y1="83.7" x2="611.1" y2="86.5" stroke="#1a1a1a" stroke-width="0.85" stroke-opacity="0.75"/><line x1="611.4" y1="67.8" x2="613.7" y2="68.0" stroke="#1a1a1a" stroke-width="0.85" stroke-opacity="0.75"/><line x1="608.1" y1="89.8" x2="609.8" y2="92.5" stroke="#1a1a1a" stroke-width="0.85" stroke-opacity="0.75"/><line x1="675.7" y1="68.0" x2="675.7" y2="72.2" stroke="#1a1a1a" stroke-width="0.85" stroke-opacity="0.75"/><line x1="632.5" y1="53.0" x2="630.7" y2="54.9" stroke="#1a1a1a" stroke-width="0.85" stroke-opacity="0.75"/><line x1="629.3" y1="60.3" x2="629.5" y2="63.2" stroke="#1a1a1a" stroke-width="0.85" stroke-opacity="0.75"/><line x1="632.5" y1="62.7" x2="636.4" y2="63.4" stroke="#1a1a1a" stroke-width="0.85" stroke-opacity="0.75"/><line x1="605.2" y1="66.2" x2="604.7" y2="69.1" stroke="#1a1a1a" stroke-width="0.85" stroke-opacity="0.75"/><line x1="629.7" y1="53.6" x2="629.8" y2="56.1" stroke="#1a1a1a" stroke-width="0.85" stroke-opacity="0.75"/><line x1="658.5" y1="65.2" x2="661.4" y2="65.3" stroke="#1a1a1a" stroke-width="0.85" stroke-opacity="0.75"/><line x1="630.1" y1="52.5" x2="628.9" y2="55.7" stroke="#1a1a1a" stroke-width="0.85" stroke-opacity="0.75"/><line x1="625.3" y1="64.0" x2="625.1" y2="67.8" stroke="#1a1a1a" stroke-width="0.85" stroke-opacity="0.75"/><line x1="621.4" y1="51.3" x2="618.9" y2="53.1" stroke="#1a1a1a" stroke-width="0.85" stroke-opacity="0.75"/><line x1="667.7" y1="58.7" x2="669.9" y2="61.6" stroke="#1a1a1a" stroke-width="0.85" stroke-opacity="0.75"/><line x1="665.4" y1="54.0" x2="667.6" y2="57.4" stroke="#1a1a1a" stroke-width="0.85" stroke-opacity="0.75"/><line x1="661.2" y1="74.2" x2="665.0" y2="74.9" stroke="#1a1a1a" stroke-width="0.85" stroke-opacity="0.75"/><line x1="604.2" y1="71.4" x2="603.5" y2="75.6" stroke="#1a1a1a" stroke-width="0.85" stroke-opacity="0.75"/><line x1="675.0" y1="80.2" x2="674.5" y2="82.1" stroke="#1a1a1a" stroke-width="0.85" stroke-opacity="0.75"/><line x1="660.1" y1="59.3" x2="657.8" y2="62.9" stroke="#1a1a1a" stroke-width="0.85" stroke-opacity="0.75"/><line x1="663.5" y1="61.4" x2="661.5" y2="63.5" stroke="#1a1a1a" stroke-width="0.85" stroke-opacity="0.75"/><line x1="634.5" y1="61.7" x2="637.1" y2="62.7" stroke="#1a1a1a" stroke-width="0.85" stroke-opacity="0.75"/><line x1="610.1" y1="84.6" x2="608.4" y2="87.5" stroke="#1a1a1a" stroke-width="0.85" stroke-opacity="0.75"/><line x1="617.1" y1="58.9" x2="616.7" y2="62.9" stroke="#1a1a1a" stroke-width="0.85" stroke-opacity="0.75"/><line x1="609.8" y1="87.4" x2="610.0" y2="89.5" stroke="#1a1a1a" stroke-width="0.85" stroke-opacity="0.75"/><line x1="635.7" y1="56.8" x2="633.5" y2="60.5" stroke="#1a1a1a" stroke-width="0.85" stroke-opacity="0.75"/><line x1="606.9" y1="79.7" x2="609.9" y2="81.4" stroke="#1a1a1a" stroke-width="0.85" stroke-opacity="0.75"/><line x1="614.9" y1="56.1" x2="617.4" y2="57.5" stroke="#1a1a1a" stroke-width="0.85" stroke-opacity="0.75"/><line x1="646.7" y1="65.6" x2="647.9" y2="68.8" stroke="#1a1a1a" stroke-width="0.85" stroke-opacity="0.75"/><line x1="667.8" y1="56.0" x2="667.0" y2="59.0" stroke="#1a1a1a" stroke-width="0.85" stroke-opacity="0.75"/><line x1="654.5" y1="48.6" x2="657.1" y2="51.4" stroke="#1a1a1a" stroke-width="0.85" stroke-opacity="0.75"/><line x1="644.0" y1="51.0" x2="647.9" y2="51.8" stroke="#1a1a1a" stroke-width="0.85" stroke-opacity="0.75"/><line x1="672.7" y1="62.1" x2="672.8" y2="64.6" stroke="#1a1a1a" stroke-width="0.85" stroke-opacity="0.75"/><line x1="628.5" y1="44.8" x2="624.7" y2="45.4" stroke="#1a1a1a" stroke-width="0.85" stroke-opacity="0.75"/><line x1="661.4" y1="48.1" x2="664.1" y2="50.1" stroke="#1a1a1a" stroke-width="0.85" stroke-opacity="0.75"/><line x1="650.0" y1="42.1" x2="647.5" y2="44.4" stroke="#1a1a1a" stroke-width="0.85" stroke-opacity="0.75"/><line x1="672.8" y1="90.2" x2="671.1" y2="92.6" stroke="#1a1a1a" stroke-width="0.85" stroke-opacity="0.75"/><line x1="674.8" y1="77.5" x2="677.3" y2="80.7" stroke="#1a1a1a" stroke-width="0.85" stroke-opacity="0.75"/><line x1="657.4" y1="51.2" x2="658.9" y2="52.6" stroke="#1a1a1a" stroke-width="0.85" stroke-opacity="0.75"/><line x1="642.2" y1="50.2" x2="643.8" y2="52.3" stroke="#1a1a1a" stroke-width="0.85" stroke-opacity="0.75"/><line x1="609.6" y1="64.1" x2="611.4" y2="66.1" stroke="#1a1a1a" stroke-width="0.85" stroke-opacity="0.75"/><line x1="623.3" y1="66.1" x2="621.1" y2="67.0" stroke="#1a1a1a" stroke-width="0.85" stroke-opacity="0.75"/><line x1="669.3" y1="85.7" x2="668.2" y2="88.8" stroke="#1a1a1a" stroke-width="0.85" stroke-opacity="0.75"/><line x1="659.7" y1="66.2" x2="657.7" y2="69.9" stroke="#1a1a1a" stroke-width="0.85" stroke-opacity="0.75"/><line x1="659.9" y1="51.2" x2="664.1" y2="52.0" stroke="#1a1a1a" stroke-width="0.85" stroke-opacity="0.75"/><line x1="617.9" y1="61.4" x2="619.4" y2="64.9" stroke="#1a1a1a" stroke-width="0.85" stroke-opacity="0.75"/><line x1="675.8" y1="65.0" x2="675.2" y2="67.7" stroke="#1a1a1a" stroke-width="0.85" stroke-opacity="0.75"/><line x1="609.3" y1="91.5" x2="608.3" y2="93.4" stroke="#1a1a1a" stroke-width="0.85" stroke-opacity="0.75"/><line x1="646.6" y1="43.1" x2="643.9" y2="43.2" stroke="#1a1a1a" stroke-width="0.85" stroke-opacity="0.75"/><line x1="651.6" y1="39.9" x2="655.0" y2="40.2" stroke="#1a1a1a" stroke-width="0.85" stroke-opacity="0.75"/><line x1="668.5" y1="82.0" x2="668.4" y2="84.2" stroke="#1a1a1a" stroke-width="0.85" stroke-opacity="0.75"/><line x1="642.3" y1="45.7" x2="642.0" y2="48.5" stroke="#1a1a1a" stroke-width="0.85" stroke-opacity="0.75"/><line x1="640.8" y1="46.7" x2="639.0" y2="49.1" stroke="#1a1a1a" stroke-width="0.85" stroke-opacity="0.75"/><line x1="638.8" y1="39.1" x2="638.9" y2="42.4" stroke="#1a1a1a" stroke-width="0.85" stroke-opacity="0.75"/><line x1="609.9" y1="52.4" x2="611.7" y2="55.6" stroke="#1a1a1a" stroke-width="0.85" stroke-opacity="0.75"/><line x1="667.1" y1="92.0" x2="670.3" y2="92.2" stroke="#1a1a1a" stroke-width="0.85" stroke-opacity="0.75"/><line x1="666.5" y1="75.6" x2="666.3" y2="79.0" stroke="#1a1a1a" stroke-width="0.85" stroke-opacity="0.75"/><line x1="659.5" y1="84.5" x2="661.7" y2="84.5" stroke="#1a1a1a" stroke-width="0.85" stroke-opacity="0.75"/><line x1="666.0" y1="59.2" x2="667.4" y2="61.7" stroke="#1a1a1a" stroke-width="0.85" stroke-opacity="0.75"/><line x1="621.1" y1="69.7" x2="620.9" y2="72.5" stroke="#1a1a1a" stroke-width="0.85" stroke-opacity="0.75"/><line x1="652.5" y1="61.9" x2="655.5" y2="64.7" stroke="#1a1a1a" stroke-width="0.85" stroke-opacity="0.75"/><line x1="621.4" y1="63.9" x2="619.2" y2="65.6" stroke="#1a1a1a" stroke-width="0.85" stroke-opacity="0.75"/><line x1="617.9" y1="74.1" x2="620.2" y2="76.4" stroke="#1a1a1a" stroke-width="0.85" stroke-opacity="0.75"/><line x1="619.3" y1="87.9" x2="621.5" y2="89.3" stroke="#1a1a1a" stroke-width="0.85" stroke-opacity="0.75"/><line x1="625.3" y1="54.4" x2="622.9" y2="57.1" stroke="#1a1a1a" stroke-width="0.85" stroke-opacity="0.75"/><line x1="661.4" y1="67.9" x2="665.1" y2="68.9" stroke="#1a1a1a" stroke-width="0.85" stroke-opacity="0.75"/><line x1="619.0" y1="47.0" x2="620.1" y2="51.2" stroke="#1a1a1a" stroke-width="0.85" stroke-opacity="0.75"/><line x1="631.8" y1="56.8" x2="627.6" y2="58.0" stroke="#1a1a1a" stroke-width="0.85" stroke-opacity="0.75"/><line x1="632.5" y1="42.9" x2="629.4" y2="45.3" stroke="#1a1a1a" stroke-width="0.85" stroke-opacity="0.75"/><line x1="630.9" y1="51.4" x2="629.8" y2="55.0" stroke="#1a1a1a" stroke-width="0.85" stroke-opacity="0.75"/><line x1="631.6" y1="39.6" x2="629.3" y2="40.2" stroke="#1a1a1a" stroke-width="0.85" stroke-opacity="0.75"/><line x1="618.5" y1="88.4" x2="614.3" y2="89.0" stroke="#1a1a1a" stroke-width="0.85" stroke-opacity="0.75"/><line x1="612.6" y1="78.7" x2="610.1" y2="79.1" stroke="#1a1a1a" stroke-width="0.85" stroke-opacity="0.75"/><line x1="612.6" y1="76.0" x2="609.1" y2="77.4" stroke="#1a1a1a" stroke-width="0.85" stroke-opacity="0.75"/><line x1="675.5" y1="62.2" x2="676.4" y2="64.3" stroke="#1a1a1a" stroke-width="0.85" stroke-opacity="0.75"/><line x1="623.0" y1="46.4" x2="626.1" y2="47.6" stroke="#1a1a1a" stroke-width="0.85" stroke-opacity="0.75"/><line x1="662.1" y1="67.4" x2="659.9" y2="67.8" stroke="#1a1a1a" stroke-width="0.85" stroke-opacity="0.75"/><line x1="626.3" y1="81.3" x2="623.2" y2="82.0" stroke="#1a1a1a" stroke-width="0.85" stroke-opacity="0.75"/><line x1="613.1" y1="54.5" x2="612.5" y2="57.1" stroke="#1a1a1a" stroke-width="0.85" stroke-opacity="0.75"/><line x1="665.9" y1="62.7" x2="669.4" y2="65.1" stroke="#1a1a1a" stroke-width="0.85" stroke-opacity="0.75"/><line x1="659.8" y1="59.8" x2="662.2" y2="60.2" stroke="#1a1a1a" stroke-width="0.85" stroke-opacity="0.75"/><line x1="613.0" y1="79.6" x2="614.6" y2="80.8" stroke="#1a1a1a" stroke-width="0.85" stroke-opacity="0.75"/><line x1="617.6" y1="82.2" x2="617.6" y2="85.7" stroke="#1a1a1a" stroke-width="0.85" stroke-opacity="0.75"/><line x1="635.8" y1="46.9" x2="638.6" y2="47.0" stroke="#1a1a1a" stroke-width="0.85" stroke-opacity="0.75"/><line x1="649.4" y1="56.4" x2="649.6" y2="59.9" stroke="#1a1a1a" stroke-width="0.85" stroke-opacity="0.75"/><line x1="627.0" y1="56.8" x2="623.8" y2="58.0" stroke="#1a1a1a" stroke-width="0.85" stroke-opacity="0.75"/><line x1="638.1" y1="55.6" x2="635.6" y2="56.3" stroke="#1a1a1a" stroke-width="0.85" stroke-opacity="0.75"/><line x1="676.0" y1="86.7" x2="673.8" y2="87.6" stroke="#1a1a1a" stroke-width="0.85" stroke-opacity="0.75"/><line x1="623.9" y1="45.3" x2="622.3" y2="47.2" stroke="#1a1a1a" stroke-width="0.85" stroke-opacity="0.75"/><line x1="648.0" y1="45.2" x2="645.4" y2="45.7" stroke="#1a1a1a" stroke-width="0.85" stroke-opacity="0.75"/><line x1="607.0" y1="75.8" x2="608.5" y2="78.7" stroke="#1a1a1a" stroke-width="0.85" stroke-opacity="0.75"/><line x1="639.5" y1="58.7" x2="642.7" y2="58.7" stroke="#1a1a1a" stroke-width="0.85" stroke-opacity="0.75"/><line x1="649.0" y1="63.3" x2="652.1" y2="64.2" stroke="#1a1a1a" stroke-width="0.85" stroke-opacity="0.75"/><line x1="636.5" y1="40.3" x2="634.4" y2="41.8" stroke="#1a1a1a" stroke-width="0.85" stroke-opacity="0.75"/><line x1="664.9" y1="82.4" x2="667.8" y2="85.4" stroke="#1a1a1a" stroke-width="0.85" stroke-opacity="0.75"/><line x1="640.7" y1="59.5" x2="639.9" y2="63.7" stroke="#1a1a1a" stroke-width="0.85" stroke-opacity="0.75"/><line x1="638.0" y1="63.3" x2="640.4" y2="66.5" stroke="#1a1a1a" stroke-width="0.85" stroke-opacity="0.75"/><line x1="639.2" y1="55.8" x2="641.3" y2="57.3" stroke="#1a1a1a" stroke-width="0.85" stroke-opacity="0.75"/><line x1="668.8" y1="84.1" x2="664.6" y2="84.3" stroke="#1a1a1a" stroke-width="0.85" stroke-opacity="0.75"/><line x1="657.9" y1="83.9" x2="655.9" y2="85.3" stroke="#1a1a1a" stroke-width="0.85" stroke-opacity="0.75"/><line x1="663.7" y1="52.7" x2="666.7" y2="55.7" stroke="#1a1a1a" stroke-width="0.85" stroke-opacity="0.75"/><line x1="672.8" y1="74.3" x2="676.4" y2="75.0" stroke="#1a1a1a" stroke-width="0.85" stroke-opacity="0.75"/><line x1="668.2" y1="53.6" x2="671.2" y2="55.6" stroke="#1a1a1a" stroke-width="0.85" stroke-opacity="0.75"/></g>
</svg>
</body></html>
